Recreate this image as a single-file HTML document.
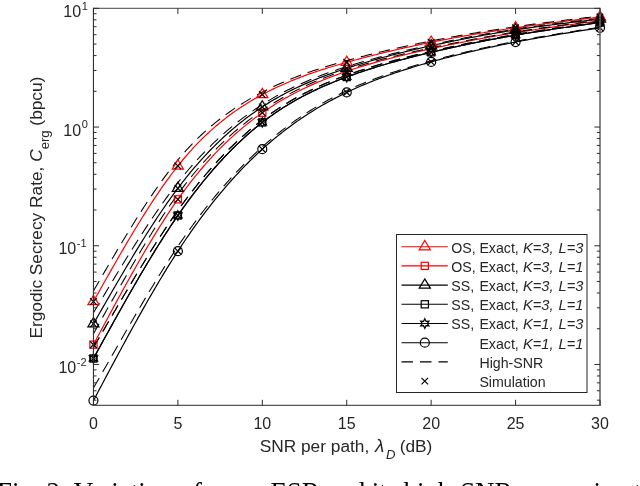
<!DOCTYPE html>
<html><head><meta charset="utf-8"><title>Fig. 2</title>
<style>
html,body{margin:0;padding:0;background:#fff;}
body{width:640px;height:486px;overflow:hidden;position:relative;font-family:"Liberation Sans",sans-serif;}
svg{position:absolute;left:0;top:0;}
svg text{font-family:"Liberation Sans",sans-serif;fill:#262626;}
svg{will-change:transform;}
.cap{will-change:transform;position:absolute;left:-3px;top:479.0px;white-space:nowrap;font-family:"Liberation Serif",serif;font-size:27px;line-height:27px;color:#000;letter-spacing:0px;}
</style></head><body>
<svg width="640" height="486" viewBox="0 0 640 486">
<rect x="0" y="0" width="640" height="486" fill="#fff"/>
<defs><clipPath id="ax"><rect x="93" y="8" width="507.5" height="398"/></clipPath></defs>

<g clip-path="url(#ax)" fill="none" stroke-linejoin="round">
<path d="M93.45,301.52 L95.14,298.51 L96.83,295.51 L98.52,292.51 L100.20,289.51 L101.89,286.52 L103.58,283.52 L105.27,280.54 L106.96,277.55 L108.65,274.58 L110.34,271.60 L112.02,268.64 L113.71,265.68 L115.40,262.74 L117.09,259.80 L118.78,256.87 L120.47,253.95 L122.15,251.04 L123.84,248.15 L125.53,245.26 L127.22,242.39 L128.91,239.54 L130.60,236.70 L132.29,233.87 L133.97,231.06 L135.66,228.27 L137.35,225.50 L139.04,222.74 L140.73,220.00 L142.42,217.28 L144.11,214.59 L145.79,211.91 L147.48,209.25 L149.17,206.62 L150.86,204.01 L152.55,201.42 L154.24,198.86 L155.92,196.33 L157.61,193.82 L159.30,191.33 L160.99,188.88 L162.68,186.45 L164.37,184.05 L166.06,181.68 L167.74,179.34 L169.43,177.03 L171.12,174.75 L172.81,172.51 L174.50,170.30 L176.19,168.12 L177.88,165.97 L179.56,163.86 L181.25,161.79 L182.94,159.75 L184.63,157.74 L186.32,155.77 L188.01,153.82 L189.69,151.92 L191.38,150.04 L193.07,148.20 L194.76,146.38 L196.45,144.60 L198.14,142.85 L199.83,141.12 L201.51,139.43 L203.20,137.77 L204.89,136.13 L206.58,134.53 L208.27,132.95 L209.96,131.40 L211.64,129.87 L213.33,128.37 L215.02,126.90 L216.71,125.46 L218.40,124.04 L220.09,122.64 L221.78,121.27 L223.46,119.92 L225.15,118.60 L226.84,117.30 L228.53,116.02 L230.22,114.76 L231.91,113.53 L233.60,112.32 L235.28,111.13 L236.97,109.96 L238.66,108.81 L240.35,107.68 L242.04,106.56 L243.73,105.47 L245.42,104.40 L247.10,103.34 L248.79,102.31 L250.48,101.29 L252.17,100.28 L253.86,99.29 L255.55,98.32 L257.23,97.37 L258.92,96.43 L260.61,95.50 L262.30,94.59 L263.99,93.69 L265.68,92.81 L267.37,91.94 L269.05,91.08 L270.74,90.24 L272.43,89.41 L274.12,88.59 L275.81,87.78 L277.50,86.99 L279.19,86.20 L280.87,85.43 L282.56,84.68 L284.25,83.93 L285.94,83.19 L287.63,82.47 L289.32,81.75 L291.00,81.05 L292.69,80.35 L294.38,79.67 L296.07,79.00 L297.76,78.33 L299.45,77.68 L301.14,77.03 L302.82,76.39 L304.51,75.77 L306.20,75.15 L307.89,74.54 L309.58,73.93 L311.27,73.34 L312.96,72.75 L314.64,72.17 L316.33,71.60 L318.02,71.04 L319.71,70.48 L321.40,69.93 L323.09,69.38 L324.77,68.85 L326.46,68.31 L328.15,67.79 L329.84,67.27 L331.53,66.75 L333.22,66.24 L334.91,65.73 L336.59,65.23 L338.28,64.74 L339.97,64.25 L341.66,63.76 L343.35,63.28 L345.04,62.80 L346.73,62.32 L348.41,61.85 L350.10,61.38 L351.79,60.91 L353.48,60.45 L355.17,59.99 L356.86,59.54 L358.54,59.08 L360.23,58.63 L361.92,58.19 L363.61,57.74 L365.30,57.30 L366.99,56.86 L368.68,56.43 L370.36,56.00 L372.05,55.57 L373.74,55.14 L375.43,54.72 L377.12,54.30 L378.81,53.89 L380.50,53.47 L382.18,53.06 L383.87,52.65 L385.56,52.25 L387.25,51.84 L388.94,51.44 L390.63,51.05 L392.31,50.65 L394.00,50.26 L395.69,49.87 L397.38,49.48 L399.07,49.10 L400.76,48.72 L402.45,48.34 L404.13,47.96 L405.82,47.59 L407.51,47.22 L409.20,46.85 L410.89,46.48 L412.58,46.12 L414.26,45.75 L415.95,45.40 L417.64,45.04 L419.33,44.68 L421.02,44.33 L422.71,43.98 L424.40,43.63 L426.08,43.28 L427.77,42.94 L429.46,42.60 L431.15,42.26 L432.84,41.92 L434.53,41.59 L436.22,41.25 L437.90,40.92 L439.59,40.59 L441.28,40.26 L442.97,39.94 L444.66,39.62 L446.35,39.29 L448.04,38.97 L449.72,38.66 L451.41,38.34 L453.10,38.03 L454.79,37.72 L456.48,37.41 L458.17,37.10 L459.85,36.80 L461.54,36.49 L463.23,36.19 L464.92,35.89 L466.61,35.59 L468.30,35.30 L469.99,35.01 L471.67,34.71 L473.36,34.42 L475.05,34.14 L476.74,33.85 L478.43,33.57 L480.12,33.28 L481.80,33.00 L483.49,32.72 L485.18,32.45 L486.87,32.17 L488.56,31.90 L490.25,31.63 L491.94,31.36 L493.62,31.09 L495.31,30.83 L497.00,30.56 L498.69,30.30 L500.38,30.04 L502.07,29.78 L503.76,29.53 L505.44,29.27 L507.13,29.02 L508.82,28.77 L510.51,28.52 L512.20,28.27 L513.89,28.02 L515.58,27.78 L517.26,27.54 L518.95,27.29 L520.64,27.06 L522.33,26.82 L524.02,26.58 L525.71,26.35 L527.39,26.11 L529.08,25.88 L530.77,25.65 L532.46,25.42 L534.15,25.20 L535.84,24.97 L537.53,24.74 L539.21,24.52 L540.90,24.30 L542.59,24.08 L544.28,23.86 L545.97,23.64 L547.66,23.42 L549.35,23.20 L551.03,22.99 L552.72,22.77 L554.41,22.56 L556.10,22.35 L557.79,22.14 L559.48,21.93 L561.16,21.72 L562.85,21.51 L564.54,21.30 L566.23,21.09 L567.92,20.88 L569.61,20.68 L571.30,20.47 L572.98,20.27 L574.67,20.06 L576.36,19.86 L578.05,19.65 L579.74,19.45 L581.43,19.25 L583.12,19.04 L584.80,18.84 L586.49,18.64 L588.18,18.44 L589.87,18.24 L591.56,18.04 L593.25,17.83 L594.93,17.63 L596.62,17.43 L598.31,17.23 L600.00,17.03" stroke="#ff0000" stroke-width="1.2"/>
<path d="M93.45,344.66 L95.14,341.50 L96.83,338.33 L98.52,335.17 L100.20,332.02 L101.89,328.86 L103.58,325.71 L105.27,322.56 L106.96,319.41 L108.65,316.27 L110.34,313.13 L112.02,310.01 L113.71,306.88 L115.40,303.77 L117.09,300.66 L118.78,297.56 L120.47,294.48 L122.15,291.40 L123.84,288.33 L125.53,285.27 L127.22,282.23 L128.91,279.19 L130.60,276.17 L132.29,273.16 L133.97,270.17 L135.66,267.19 L137.35,264.23 L139.04,261.28 L140.73,258.35 L142.42,255.44 L144.11,252.55 L145.79,249.67 L147.48,246.81 L149.17,243.98 L150.86,241.16 L152.55,238.36 L154.24,235.59 L155.92,232.83 L157.61,230.10 L159.30,227.40 L160.99,224.72 L162.68,222.06 L164.37,219.42 L166.06,216.82 L167.74,214.24 L169.43,211.68 L171.12,209.16 L172.81,206.66 L174.50,204.19 L176.19,201.75 L177.88,199.35 L179.56,196.97 L181.25,194.62 L182.94,192.30 L184.63,190.02 L186.32,187.76 L188.01,185.53 L189.69,183.33 L191.38,181.16 L193.07,179.02 L194.76,176.91 L196.45,174.82 L198.14,172.77 L199.83,170.74 L201.51,168.74 L203.20,166.76 L204.89,164.81 L206.58,162.89 L208.27,161.00 L209.96,159.13 L211.64,157.29 L213.33,155.47 L215.02,153.68 L216.71,151.91 L218.40,150.17 L220.09,148.45 L221.78,146.76 L223.46,145.09 L225.15,143.45 L226.84,141.83 L228.53,140.23 L230.22,138.65 L231.91,137.10 L233.60,135.57 L235.28,134.06 L236.97,132.57 L238.66,131.11 L240.35,129.67 L242.04,128.24 L243.73,126.84 L245.42,125.46 L247.10,124.10 L248.79,122.76 L250.48,121.44 L252.17,120.14 L253.86,118.86 L255.55,117.60 L257.23,116.36 L258.92,115.13 L260.61,113.93 L262.30,112.74 L263.99,111.57 L265.68,110.41 L267.37,109.28 L269.05,108.16 L270.74,107.06 L272.43,105.97 L274.12,104.91 L275.81,103.85 L277.50,102.82 L279.19,101.80 L280.87,100.79 L282.56,99.80 L284.25,98.83 L285.94,97.87 L287.63,96.92 L289.32,95.99 L291.00,95.08 L292.69,94.17 L294.38,93.28 L296.07,92.41 L297.76,91.55 L299.45,90.70 L301.14,89.86 L302.82,89.04 L304.51,88.22 L306.20,87.42 L307.89,86.64 L309.58,85.86 L311.27,85.10 L312.96,84.34 L314.64,83.60 L316.33,82.87 L318.02,82.15 L319.71,81.44 L321.40,80.74 L323.09,80.05 L324.77,79.37 L326.46,78.69 L328.15,78.03 L329.84,77.38 L331.53,76.73 L333.22,76.10 L334.91,75.47 L336.59,74.85 L338.28,74.23 L339.97,73.63 L341.66,73.03 L343.35,72.44 L345.04,71.86 L346.73,71.28 L348.41,70.71 L350.10,70.15 L351.79,69.59 L353.48,69.04 L355.17,68.49 L356.86,67.95 L358.54,67.42 L360.23,66.89 L361.92,66.37 L363.61,65.85 L365.30,65.34 L366.99,64.84 L368.68,64.34 L370.36,63.84 L372.05,63.35 L373.74,62.87 L375.43,62.39 L377.12,61.91 L378.81,61.44 L380.50,60.98 L382.18,60.52 L383.87,60.06 L385.56,59.61 L387.25,59.16 L388.94,58.71 L390.63,58.28 L392.31,57.84 L394.00,57.41 L395.69,56.98 L397.38,56.56 L399.07,56.14 L400.76,55.72 L402.45,55.31 L404.13,54.90 L405.82,54.49 L407.51,54.09 L409.20,53.69 L410.89,53.29 L412.58,52.89 L414.26,52.50 L415.95,52.11 L417.64,51.73 L419.33,51.34 L421.02,50.96 L422.71,50.58 L424.40,50.20 L426.08,49.83 L427.77,49.46 L429.46,49.09 L431.15,48.72 L432.84,48.35 L434.53,47.99 L436.22,47.62 L437.90,47.26 L439.59,46.90 L441.28,46.54 L442.97,46.19 L444.66,45.83 L446.35,45.48 L448.04,45.13 L449.72,44.78 L451.41,44.43 L453.10,44.09 L454.79,43.74 L456.48,43.40 L458.17,43.06 L459.85,42.73 L461.54,42.39 L463.23,42.06 L464.92,41.72 L466.61,41.39 L468.30,41.06 L469.99,40.74 L471.67,40.41 L473.36,40.09 L475.05,39.77 L476.74,39.45 L478.43,39.13 L480.12,38.82 L481.80,38.51 L483.49,38.20 L485.18,37.89 L486.87,37.58 L488.56,37.27 L490.25,36.97 L491.94,36.67 L493.62,36.37 L495.31,36.07 L497.00,35.78 L498.69,35.48 L500.38,35.19 L502.07,34.90 L503.76,34.62 L505.44,34.33 L507.13,34.05 L508.82,33.77 L510.51,33.49 L512.20,33.21 L513.89,32.93 L515.58,32.66 L517.26,32.39 L518.95,32.12 L520.64,31.85 L522.33,31.59 L524.02,31.33 L525.71,31.06 L527.39,30.80 L529.08,30.55 L530.77,30.29 L532.46,30.04 L534.15,29.78 L535.84,29.53 L537.53,29.28 L539.21,29.03 L540.90,28.79 L542.59,28.54 L544.28,28.30 L545.97,28.06 L547.66,27.81 L549.35,27.57 L551.03,27.34 L552.72,27.10 L554.41,26.86 L556.10,26.63 L557.79,26.39 L559.48,26.16 L561.16,25.93 L562.85,25.70 L564.54,25.47 L566.23,25.24 L567.92,25.01 L569.61,24.78 L571.30,24.55 L572.98,24.33 L574.67,24.10 L576.36,23.87 L578.05,23.65 L579.74,23.43 L581.43,23.20 L583.12,22.98 L584.80,22.76 L586.49,22.53 L588.18,22.31 L589.87,22.09 L591.56,21.87 L593.25,21.65 L594.93,21.43 L596.62,21.21 L598.31,20.98 L600.00,20.76" stroke="#ff0000" stroke-width="1.2"/>
<path d="M93.45,323.80 L95.14,320.86 L96.83,317.91 L98.52,314.97 L100.20,312.03 L101.89,309.09 L103.58,306.15 L105.27,303.22 L106.96,300.29 L108.65,297.36 L110.34,294.44 L112.02,291.53 L113.71,288.62 L115.40,285.72 L117.09,282.82 L118.78,279.94 L120.47,277.06 L122.15,274.19 L123.84,271.33 L125.53,268.48 L127.22,265.64 L128.91,262.82 L130.60,260.00 L132.29,257.20 L133.97,254.41 L135.66,251.63 L137.35,248.87 L139.04,246.12 L140.73,243.39 L142.42,240.67 L144.11,237.97 L145.79,235.29 L147.48,232.62 L149.17,229.97 L150.86,227.35 L152.55,224.73 L154.24,222.14 L155.92,219.57 L157.61,217.02 L159.30,214.50 L160.99,211.99 L162.68,209.51 L164.37,207.05 L166.06,204.61 L167.74,202.20 L169.43,199.81 L171.12,197.45 L172.81,195.11 L174.50,192.80 L176.19,190.52 L177.88,188.26 L179.56,186.04 L181.25,183.84 L182.94,181.67 L184.63,179.52 L186.32,177.41 L188.01,175.32 L189.69,173.25 L191.38,171.22 L193.07,169.21 L194.76,167.22 L196.45,165.27 L198.14,163.34 L199.83,161.43 L201.51,159.55 L203.20,157.69 L204.89,155.86 L206.58,154.06 L208.27,152.28 L209.96,150.52 L211.64,148.79 L213.33,147.08 L215.02,145.39 L216.71,143.73 L218.40,142.09 L220.09,140.47 L221.78,138.88 L223.46,137.31 L225.15,135.76 L226.84,134.24 L228.53,132.73 L230.22,131.25 L231.91,129.79 L233.60,128.35 L235.28,126.93 L236.97,125.53 L238.66,124.15 L240.35,122.80 L242.04,121.46 L243.73,120.14 L245.42,118.84 L247.10,117.57 L248.79,116.31 L250.48,115.07 L252.17,113.85 L253.86,112.65 L255.55,111.46 L257.23,110.30 L258.92,109.15 L260.61,108.02 L262.30,106.91 L263.99,105.82 L265.68,104.74 L267.37,103.68 L269.05,102.63 L270.74,101.61 L272.43,100.59 L274.12,99.60 L275.81,98.62 L277.50,97.65 L279.19,96.70 L280.87,95.77 L282.56,94.85 L284.25,93.94 L285.94,93.05 L287.63,92.17 L289.32,91.31 L291.00,90.46 L292.69,89.62 L294.38,88.80 L296.07,87.98 L297.76,87.18 L299.45,86.39 L301.14,85.62 L302.82,84.85 L304.51,84.10 L306.20,83.36 L307.89,82.63 L309.58,81.91 L311.27,81.20 L312.96,80.50 L314.64,79.81 L316.33,79.13 L318.02,78.45 L319.71,77.79 L321.40,77.14 L323.09,76.49 L324.77,75.86 L326.46,75.23 L328.15,74.61 L329.84,74.00 L331.53,73.39 L333.22,72.79 L334.91,72.20 L336.59,71.61 L338.28,71.04 L339.97,70.46 L341.66,69.90 L343.35,69.34 L345.04,68.78 L346.73,68.23 L348.41,67.68 L350.10,67.14 L351.79,66.61 L353.48,66.07 L355.17,65.55 L356.86,65.02 L358.54,64.51 L360.23,63.99 L361.92,63.48 L363.61,62.98 L365.30,62.48 L366.99,61.98 L368.68,61.49 L370.36,61.00 L372.05,60.52 L373.74,60.04 L375.43,59.57 L377.12,59.09 L378.81,58.63 L380.50,58.16 L382.18,57.70 L383.87,57.25 L385.56,56.79 L387.25,56.34 L388.94,55.90 L390.63,55.46 L392.31,55.02 L394.00,54.58 L395.69,54.15 L397.38,53.72 L399.07,53.30 L400.76,52.88 L402.45,52.46 L404.13,52.04 L405.82,51.63 L407.51,51.22 L409.20,50.81 L410.89,50.41 L412.58,50.00 L414.26,49.61 L415.95,49.21 L417.64,48.82 L419.33,48.43 L421.02,48.04 L422.71,47.65 L424.40,47.27 L426.08,46.89 L427.77,46.51 L429.46,46.13 L431.15,45.76 L432.84,45.39 L434.53,45.02 L436.22,44.65 L437.90,44.28 L439.59,43.92 L441.28,43.56 L442.97,43.20 L444.66,42.84 L446.35,42.49 L448.04,42.14 L449.72,41.79 L451.41,41.44 L453.10,41.09 L454.79,40.75 L456.48,40.41 L458.17,40.07 L459.85,39.73 L461.54,39.40 L463.23,39.07 L464.92,38.74 L466.61,38.41 L468.30,38.08 L469.99,37.76 L471.67,37.44 L473.36,37.12 L475.05,36.81 L476.74,36.49 L478.43,36.18 L480.12,35.87 L481.80,35.56 L483.49,35.26 L485.18,34.96 L486.87,34.66 L488.56,34.36 L490.25,34.07 L491.94,33.77 L493.62,33.48 L495.31,33.19 L497.00,32.91 L498.69,32.63 L500.38,32.35 L502.07,32.07 L503.76,31.79 L505.44,31.52 L507.13,31.25 L508.82,30.98 L510.51,30.71 L512.20,30.45 L513.89,30.19 L515.58,29.93 L517.26,29.67 L518.95,29.42 L520.64,29.16 L522.33,28.91 L524.02,28.67 L525.71,28.42 L527.39,28.18 L529.08,27.94 L530.77,27.70 L532.46,27.46 L534.15,27.23 L535.84,27.00 L537.53,26.77 L539.21,26.54 L540.90,26.31 L542.59,26.08 L544.28,25.86 L545.97,25.64 L547.66,25.42 L549.35,25.20 L551.03,24.98 L552.72,24.76 L554.41,24.55 L556.10,24.33 L557.79,24.12 L559.48,23.91 L561.16,23.70 L562.85,23.49 L564.54,23.28 L566.23,23.08 L567.92,22.87 L569.61,22.67 L571.30,22.46 L572.98,22.26 L574.67,22.06 L576.36,21.86 L578.05,21.66 L579.74,21.46 L581.43,21.26 L583.12,21.06 L584.80,20.86 L586.49,20.66 L588.18,20.46 L589.87,20.27 L591.56,20.07 L593.25,19.87 L594.93,19.67 L596.62,19.48 L598.31,19.28 L600.00,19.09" stroke="#000000" stroke-width="1.2"/>
<path d="M93.45,358.47 L95.14,355.40 L96.83,352.34 L98.52,349.27 L100.20,346.21 L101.89,343.14 L103.58,340.08 L105.27,337.03 L106.96,333.97 L108.65,330.92 L110.34,327.88 L112.02,324.84 L113.71,321.81 L115.40,318.78 L117.09,315.76 L118.78,312.74 L120.47,309.73 L122.15,306.73 L123.84,303.74 L125.53,300.76 L127.22,297.79 L128.91,294.82 L130.60,291.87 L132.29,288.93 L133.97,286.00 L135.66,283.08 L137.35,280.18 L139.04,277.28 L140.73,274.40 L142.42,271.54 L144.11,268.69 L145.79,265.85 L147.48,263.03 L149.17,260.22 L150.86,257.44 L152.55,254.66 L154.24,251.91 L155.92,249.17 L157.61,246.45 L159.30,243.75 L160.99,241.07 L162.68,238.41 L164.37,235.77 L166.06,233.16 L167.74,230.56 L169.43,227.98 L171.12,225.43 L172.81,222.90 L174.50,220.39 L176.19,217.91 L177.88,215.45 L179.56,213.01 L181.25,210.61 L182.94,208.22 L184.63,205.86 L186.32,203.52 L188.01,201.21 L189.69,198.93 L191.38,196.66 L193.07,194.42 L194.76,192.21 L196.45,190.02 L198.14,187.85 L199.83,185.71 L201.51,183.59 L203.20,181.49 L204.89,179.42 L206.58,177.37 L208.27,175.35 L209.96,173.35 L211.64,171.37 L213.33,169.41 L215.02,167.48 L216.71,165.57 L218.40,163.69 L220.09,161.82 L221.78,159.98 L223.46,158.16 L225.15,156.37 L226.84,154.60 L228.53,152.85 L230.22,151.12 L231.91,149.41 L233.60,147.73 L235.28,146.07 L236.97,144.43 L238.66,142.81 L240.35,141.21 L242.04,139.64 L243.73,138.09 L245.42,136.56 L247.10,135.05 L248.79,133.56 L250.48,132.09 L252.17,130.65 L253.86,129.22 L255.55,127.82 L257.23,126.44 L258.92,125.08 L260.61,123.74 L262.30,122.42 L263.99,121.12 L265.68,119.84 L267.37,118.58 L269.05,117.35 L270.74,116.13 L272.43,114.93 L274.12,113.75 L275.81,112.59 L277.50,111.44 L279.19,110.32 L280.87,109.21 L282.56,108.12 L284.25,107.05 L285.94,105.99 L287.63,104.96 L289.32,103.93 L291.00,102.93 L292.69,101.94 L294.38,100.96 L296.07,100.01 L297.76,99.06 L299.45,98.13 L301.14,97.22 L302.82,96.32 L304.51,95.43 L306.20,94.56 L307.89,93.70 L309.58,92.86 L311.27,92.02 L312.96,91.20 L314.64,90.39 L316.33,89.60 L318.02,88.81 L319.71,88.04 L321.40,87.28 L323.09,86.53 L324.77,85.79 L326.46,85.06 L328.15,84.34 L329.84,83.63 L331.53,82.93 L333.22,82.24 L334.91,81.56 L336.59,80.88 L338.28,80.22 L339.97,79.56 L341.66,78.91 L343.35,78.27 L345.04,77.63 L346.73,77.01 L348.41,76.38 L350.10,75.77 L351.79,75.16 L353.48,74.56 L355.17,73.97 L356.86,73.38 L358.54,72.79 L360.23,72.22 L361.92,71.65 L363.61,71.08 L365.30,70.52 L366.99,69.97 L368.68,69.42 L370.36,68.88 L372.05,68.35 L373.74,67.81 L375.43,67.29 L377.12,66.77 L378.81,66.25 L380.50,65.74 L382.18,65.24 L383.87,64.74 L385.56,64.24 L387.25,63.75 L388.94,63.26 L390.63,62.78 L392.31,62.30 L394.00,61.83 L395.69,61.36 L397.38,60.90 L399.07,60.44 L400.76,59.98 L402.45,59.53 L404.13,59.08 L405.82,58.63 L407.51,58.19 L409.20,57.75 L410.89,57.32 L412.58,56.89 L414.26,56.46 L415.95,56.03 L417.64,55.61 L419.33,55.19 L421.02,54.78 L422.71,54.36 L424.40,53.95 L426.08,53.55 L427.77,53.14 L429.46,52.74 L431.15,52.34 L432.84,51.94 L434.53,51.55 L436.22,51.15 L437.90,50.76 L439.59,50.37 L441.28,49.99 L442.97,49.60 L444.66,49.22 L446.35,48.84 L448.04,48.47 L449.72,48.09 L451.41,47.72 L453.10,47.35 L454.79,46.98 L456.48,46.62 L458.17,46.25 L459.85,45.89 L461.54,45.53 L463.23,45.18 L464.92,44.82 L466.61,44.47 L468.30,44.12 L469.99,43.77 L471.67,43.43 L473.36,43.08 L475.05,42.74 L476.74,42.40 L478.43,42.07 L480.12,41.73 L481.80,41.40 L483.49,41.07 L485.18,40.74 L486.87,40.41 L488.56,40.09 L490.25,39.77 L491.94,39.45 L493.62,39.13 L495.31,38.82 L497.00,38.50 L498.69,38.19 L500.38,37.88 L502.07,37.58 L503.76,37.27 L505.44,36.97 L507.13,36.67 L508.82,36.37 L510.51,36.08 L512.20,35.78 L513.89,35.49 L515.58,35.20 L517.26,34.91 L518.95,34.63 L520.64,34.34 L522.33,34.06 L524.02,33.78 L525.71,33.51 L527.39,33.23 L529.08,32.95 L530.77,32.68 L532.46,32.41 L534.15,32.14 L535.84,31.87 L537.53,31.61 L539.21,31.34 L540.90,31.08 L542.59,30.82 L544.28,30.56 L545.97,30.30 L547.66,30.04 L549.35,29.79 L551.03,29.53 L552.72,29.28 L554.41,29.03 L556.10,28.77 L557.79,28.52 L559.48,28.28 L561.16,28.03 L562.85,27.78 L564.54,27.53 L566.23,27.29 L567.92,27.04 L569.61,26.80 L571.30,26.56 L572.98,26.31 L574.67,26.07 L576.36,25.83 L578.05,25.59 L579.74,25.35 L581.43,25.11 L583.12,24.87 L584.80,24.63 L586.49,24.40 L588.18,24.16 L589.87,23.92 L591.56,23.68 L593.25,23.44 L594.93,23.21 L596.62,22.97 L598.31,22.73 L600.00,22.50" stroke="#000000" stroke-width="1.2"/>
<path d="M93.45,358.47 L95.14,355.40 L96.83,352.34 L98.52,349.27 L100.20,346.21 L101.89,343.14 L103.58,340.08 L105.27,337.03 L106.96,333.97 L108.65,330.92 L110.34,327.88 L112.02,324.84 L113.71,321.81 L115.40,318.78 L117.09,315.76 L118.78,312.74 L120.47,309.73 L122.15,306.73 L123.84,303.74 L125.53,300.76 L127.22,297.79 L128.91,294.82 L130.60,291.87 L132.29,288.93 L133.97,286.00 L135.66,283.08 L137.35,280.18 L139.04,277.28 L140.73,274.40 L142.42,271.54 L144.11,268.69 L145.79,265.85 L147.48,263.03 L149.17,260.22 L150.86,257.44 L152.55,254.66 L154.24,251.91 L155.92,249.17 L157.61,246.45 L159.30,243.75 L160.99,241.07 L162.68,238.41 L164.37,235.77 L166.06,233.16 L167.74,230.56 L169.43,227.98 L171.12,225.43 L172.81,222.90 L174.50,220.39 L176.19,217.91 L177.88,215.45 L179.56,213.01 L181.25,210.61 L182.94,208.22 L184.63,205.86 L186.32,203.52 L188.01,201.21 L189.69,198.93 L191.38,196.66 L193.07,194.42 L194.76,192.21 L196.45,190.02 L198.14,187.85 L199.83,185.71 L201.51,183.59 L203.20,181.49 L204.89,179.42 L206.58,177.37 L208.27,175.35 L209.96,173.35 L211.64,171.37 L213.33,169.41 L215.02,167.48 L216.71,165.57 L218.40,163.69 L220.09,161.82 L221.78,159.98 L223.46,158.16 L225.15,156.37 L226.84,154.60 L228.53,152.85 L230.22,151.12 L231.91,149.41 L233.60,147.73 L235.28,146.07 L236.97,144.43 L238.66,142.81 L240.35,141.21 L242.04,139.64 L243.73,138.09 L245.42,136.56 L247.10,135.05 L248.79,133.56 L250.48,132.09 L252.17,130.65 L253.86,129.22 L255.55,127.82 L257.23,126.44 L258.92,125.08 L260.61,123.74 L262.30,122.42 L263.99,121.12 L265.68,119.84 L267.37,118.58 L269.05,117.35 L270.74,116.13 L272.43,114.93 L274.12,113.75 L275.81,112.59 L277.50,111.44 L279.19,110.32 L280.87,109.21 L282.56,108.12 L284.25,107.05 L285.94,105.99 L287.63,104.96 L289.32,103.93 L291.00,102.93 L292.69,101.94 L294.38,100.96 L296.07,100.01 L297.76,99.06 L299.45,98.13 L301.14,97.22 L302.82,96.32 L304.51,95.43 L306.20,94.56 L307.89,93.70 L309.58,92.86 L311.27,92.02 L312.96,91.20 L314.64,90.39 L316.33,89.60 L318.02,88.81 L319.71,88.04 L321.40,87.28 L323.09,86.53 L324.77,85.79 L326.46,85.06 L328.15,84.34 L329.84,83.63 L331.53,82.93 L333.22,82.24 L334.91,81.56 L336.59,80.88 L338.28,80.22 L339.97,79.56 L341.66,78.91 L343.35,78.27 L345.04,77.63 L346.73,77.01 L348.41,76.38 L350.10,75.77 L351.79,75.16 L353.48,74.56 L355.17,73.97 L356.86,73.38 L358.54,72.79 L360.23,72.22 L361.92,71.65 L363.61,71.08 L365.30,70.52 L366.99,69.97 L368.68,69.42 L370.36,68.88 L372.05,68.35 L373.74,67.81 L375.43,67.29 L377.12,66.77 L378.81,66.25 L380.50,65.74 L382.18,65.24 L383.87,64.74 L385.56,64.24 L387.25,63.75 L388.94,63.26 L390.63,62.78 L392.31,62.30 L394.00,61.83 L395.69,61.36 L397.38,60.90 L399.07,60.44 L400.76,59.98 L402.45,59.53 L404.13,59.08 L405.82,58.63 L407.51,58.19 L409.20,57.75 L410.89,57.32 L412.58,56.89 L414.26,56.46 L415.95,56.03 L417.64,55.61 L419.33,55.19 L421.02,54.78 L422.71,54.36 L424.40,53.95 L426.08,53.55 L427.77,53.14 L429.46,52.74 L431.15,52.34 L432.84,51.94 L434.53,51.55 L436.22,51.15 L437.90,50.76 L439.59,50.37 L441.28,49.99 L442.97,49.60 L444.66,49.22 L446.35,48.84 L448.04,48.47 L449.72,48.09 L451.41,47.72 L453.10,47.35 L454.79,46.98 L456.48,46.62 L458.17,46.25 L459.85,45.89 L461.54,45.53 L463.23,45.18 L464.92,44.82 L466.61,44.47 L468.30,44.12 L469.99,43.77 L471.67,43.43 L473.36,43.08 L475.05,42.74 L476.74,42.40 L478.43,42.07 L480.12,41.73 L481.80,41.40 L483.49,41.07 L485.18,40.74 L486.87,40.41 L488.56,40.09 L490.25,39.77 L491.94,39.45 L493.62,39.13 L495.31,38.82 L497.00,38.50 L498.69,38.19 L500.38,37.88 L502.07,37.58 L503.76,37.27 L505.44,36.97 L507.13,36.67 L508.82,36.37 L510.51,36.08 L512.20,35.78 L513.89,35.49 L515.58,35.20 L517.26,34.91 L518.95,34.63 L520.64,34.34 L522.33,34.06 L524.02,33.78 L525.71,33.51 L527.39,33.23 L529.08,32.95 L530.77,32.68 L532.46,32.41 L534.15,32.14 L535.84,31.87 L537.53,31.61 L539.21,31.34 L540.90,31.08 L542.59,30.82 L544.28,30.56 L545.97,30.30 L547.66,30.04 L549.35,29.79 L551.03,29.53 L552.72,29.28 L554.41,29.03 L556.10,28.77 L557.79,28.52 L559.48,28.28 L561.16,28.03 L562.85,27.78 L564.54,27.53 L566.23,27.29 L567.92,27.04 L569.61,26.80 L571.30,26.56 L572.98,26.31 L574.67,26.07 L576.36,25.83 L578.05,25.59 L579.74,25.35 L581.43,25.11 L583.12,24.87 L584.80,24.63 L586.49,24.40 L588.18,24.16 L589.87,23.92 L591.56,23.68 L593.25,23.44 L594.93,23.21 L596.62,22.97 L598.31,22.73 L600.00,22.50" stroke="#000000" stroke-width="1.2"/>
<path d="M93.45,400.60 L95.14,397.41 L96.83,394.22 L98.52,391.04 L100.20,387.86 L101.89,384.67 L103.58,381.49 L105.27,378.32 L106.96,375.14 L108.65,371.98 L110.34,368.81 L112.02,365.65 L113.71,362.50 L115.40,359.35 L117.09,356.20 L118.78,353.07 L120.47,349.94 L122.15,346.82 L123.84,343.70 L125.53,340.60 L127.22,337.50 L128.91,334.41 L130.60,331.34 L132.29,328.27 L133.97,325.22 L135.66,322.17 L137.35,319.14 L139.04,316.12 L140.73,313.11 L142.42,310.12 L144.11,307.14 L145.79,304.18 L147.48,301.23 L149.17,298.29 L150.86,295.37 L152.55,292.47 L154.24,289.58 L155.92,286.71 L157.61,283.86 L159.30,281.03 L160.99,278.21 L162.68,275.41 L164.37,272.64 L166.06,269.88 L167.74,267.14 L169.43,264.43 L171.12,261.73 L172.81,259.06 L174.50,256.41 L176.19,253.79 L177.88,251.18 L179.56,248.60 L181.25,246.05 L182.94,243.51 L184.63,241.00 L186.32,238.52 L188.01,236.05 L189.69,233.61 L191.38,231.20 L193.07,228.81 L194.76,226.43 L196.45,224.09 L198.14,221.76 L199.83,219.46 L201.51,217.18 L203.20,214.92 L204.89,212.69 L206.58,210.47 L208.27,208.28 L209.96,206.11 L211.64,203.96 L213.33,201.84 L215.02,199.73 L216.71,197.65 L218.40,195.59 L220.09,193.55 L221.78,191.53 L223.46,189.53 L225.15,187.56 L226.84,185.60 L228.53,183.67 L230.22,181.75 L231.91,179.86 L233.60,177.98 L235.28,176.13 L236.97,174.30 L238.66,172.49 L240.35,170.69 L242.04,168.92 L243.73,167.17 L245.42,165.44 L247.10,163.72 L248.79,162.03 L250.48,160.36 L252.17,158.70 L253.86,157.07 L255.55,155.45 L257.23,153.86 L258.92,152.28 L260.61,150.72 L262.30,149.18 L263.99,147.66 L265.68,146.15 L267.37,144.67 L269.05,143.20 L270.74,141.75 L272.43,140.32 L274.12,138.91 L275.81,137.51 L277.50,136.13 L279.19,134.77 L280.87,133.43 L282.56,132.10 L284.25,130.79 L285.94,129.50 L287.63,128.22 L289.32,126.96 L291.00,125.71 L292.69,124.48 L294.38,123.26 L296.07,122.06 L297.76,120.88 L299.45,119.71 L301.14,118.56 L302.82,117.42 L304.51,116.29 L306.20,115.18 L307.89,114.09 L309.58,113.01 L311.27,111.94 L312.96,110.89 L314.64,109.84 L316.33,108.82 L318.02,107.80 L319.71,106.80 L321.40,105.82 L323.09,104.84 L324.77,103.88 L326.46,102.93 L328.15,101.99 L329.84,101.07 L331.53,100.15 L333.22,99.25 L334.91,98.36 L336.59,97.48 L338.28,96.61 L339.97,95.76 L341.66,94.91 L343.35,94.08 L345.04,93.25 L346.73,92.44 L348.41,91.63 L350.10,90.84 L351.79,90.06 L353.48,89.28 L355.17,88.52 L356.86,87.76 L358.54,87.02 L360.23,86.28 L361.92,85.56 L363.61,84.84 L365.30,84.13 L366.99,83.43 L368.68,82.74 L370.36,82.05 L372.05,81.38 L373.74,80.71 L375.43,80.05 L377.12,79.40 L378.81,78.76 L380.50,78.12 L382.18,77.50 L383.87,76.87 L385.56,76.26 L387.25,75.65 L388.94,75.05 L390.63,74.46 L392.31,73.87 L394.00,73.29 L395.69,72.72 L397.38,72.15 L399.07,71.59 L400.76,71.03 L402.45,70.48 L404.13,69.94 L405.82,69.40 L407.51,68.87 L409.20,68.34 L410.89,67.82 L412.58,67.30 L414.26,66.79 L415.95,66.28 L417.64,65.77 L419.33,65.27 L421.02,64.78 L422.71,64.28 L424.40,63.80 L426.08,63.31 L427.77,62.83 L429.46,62.36 L431.15,61.88 L432.84,61.41 L434.53,60.95 L436.22,60.48 L437.90,60.02 L439.59,59.57 L441.28,59.11 L442.97,58.66 L444.66,58.21 L446.35,57.77 L448.04,57.33 L449.72,56.89 L451.41,56.45 L453.10,56.02 L454.79,55.59 L456.48,55.17 L458.17,54.74 L459.85,54.32 L461.54,53.91 L463.23,53.49 L464.92,53.08 L466.61,52.67 L468.30,52.27 L469.99,51.87 L471.67,51.47 L473.36,51.07 L475.05,50.68 L476.74,50.29 L478.43,49.90 L480.12,49.51 L481.80,49.13 L483.49,48.75 L485.18,48.38 L486.87,48.00 L488.56,47.63 L490.25,47.26 L491.94,46.90 L493.62,46.54 L495.31,46.18 L497.00,45.82 L498.69,45.46 L500.38,45.11 L502.07,44.76 L503.76,44.42 L505.44,44.07 L507.13,43.73 L508.82,43.39 L510.51,43.05 L512.20,42.72 L513.89,42.39 L515.58,42.06 L517.26,41.73 L518.95,41.41 L520.64,41.09 L522.33,40.77 L524.02,40.45 L525.71,40.14 L527.39,39.83 L529.08,39.52 L530.77,39.21 L532.46,38.90 L534.15,38.60 L535.84,38.30 L537.53,38.00 L539.21,37.70 L540.90,37.40 L542.59,37.11 L544.28,36.81 L545.97,36.52 L547.66,36.23 L549.35,35.95 L551.03,35.66 L552.72,35.37 L554.41,35.09 L556.10,34.81 L557.79,34.53 L559.48,34.25 L561.16,33.97 L562.85,33.69 L564.54,33.41 L566.23,33.14 L567.92,32.87 L569.61,32.59 L571.30,32.32 L572.98,32.05 L574.67,31.78 L576.36,31.51 L578.05,31.24 L579.74,30.97 L581.43,30.70 L583.12,30.43 L584.80,30.17 L586.49,29.90 L588.18,29.63 L589.87,29.37 L591.56,29.10 L593.25,28.84 L594.93,28.57 L596.62,28.31 L598.31,28.04 L600.00,27.78" stroke="#000000" stroke-width="1.2"/>
<path d="M93.45,291.02 L95.14,288.09 L96.83,285.17 L98.52,282.26 L100.20,279.34 L101.89,276.43 L103.58,273.52 L105.27,270.62 L106.96,267.73 L108.65,264.84 L110.34,261.96 L112.02,259.08 L113.71,256.22 L115.40,253.36 L117.09,250.51 L118.78,247.68 L120.47,244.85 L122.15,242.04 L123.84,239.23 L125.53,236.45 L127.22,233.67 L128.91,230.91 L130.60,228.16 L132.29,225.43 L133.97,222.71 L135.66,220.02 L137.35,217.34 L139.04,214.67 L140.73,212.03 L142.42,209.40 L144.11,206.80 L145.79,204.22 L147.48,201.65 L149.17,199.11 L150.86,196.60 L152.55,194.10 L154.24,191.63 L155.92,189.19 L157.61,186.77 L159.30,184.38 L160.99,182.01 L162.68,179.67 L164.37,177.36 L166.06,175.08 L167.74,172.83 L169.43,170.61 L171.12,168.41 L172.81,166.25 L174.50,164.13 L176.19,162.03 L177.88,159.97 L179.56,157.95 L181.25,155.96 L182.94,154.01 L184.63,152.09 L186.32,150.21 L188.01,148.37 L189.69,146.55 L191.38,144.77 L193.07,143.03 L194.76,141.31 L196.45,139.63 L198.14,137.97 L199.83,136.35 L201.51,134.75 L203.20,133.18 L204.89,131.64 L206.58,130.13 L208.27,128.64 L209.96,127.18 L211.64,125.75 L213.33,124.34 L215.02,122.95 L216.71,121.59 L218.40,120.25 L220.09,118.94 L221.78,117.64 L223.46,116.37 L225.15,115.12 L226.84,113.89 L228.53,112.69 L230.22,111.50 L231.91,110.33 L233.60,109.18 L235.28,108.05 L236.97,106.94 L238.66,105.85 L240.35,104.77 L242.04,103.71 L243.73,102.67 L245.42,101.65 L247.10,100.64 L248.79,99.64 L250.48,98.66 L252.17,97.70 L253.86,96.75 L255.55,95.81 L257.23,94.89 L258.92,93.97 L260.61,93.08 L262.30,92.19 L263.99,91.32 L265.68,90.46 L267.37,89.61 L269.05,88.77 L270.74,87.95 L272.43,87.14 L274.12,86.34 L275.81,85.55 L277.50,84.78 L279.19,84.01 L280.87,83.26 L282.56,82.52 L284.25,81.79 L285.94,81.07 L287.63,80.36 L289.32,79.66 L291.00,78.97 L292.69,78.29 L294.38,77.62 L296.07,76.96 L297.76,76.31 L299.45,75.67 L301.14,75.04 L302.82,74.41 L304.51,73.80 L306.20,73.19 L307.89,72.59 L309.58,72.00 L311.27,71.42 L312.96,70.84 L314.64,70.27 L316.33,69.71 L318.02,69.16 L319.71,68.61 L321.40,68.07 L323.09,67.54 L324.77,67.01 L326.46,66.49 L328.15,65.97 L329.84,65.46 L331.53,64.96 L333.22,64.46 L334.91,63.96 L336.59,63.47 L338.28,62.99 L339.97,62.51 L341.66,62.03 L343.35,61.56 L345.04,61.09 L346.73,60.62 L348.41,60.16 L350.10,59.70 L351.79,59.24 L353.48,58.79 L355.17,58.34 L356.86,57.90 L358.54,57.45 L360.23,57.01 L361.92,56.58 L363.61,56.14 L365.30,55.71 L366.99,55.28 L368.68,54.86 L370.36,54.43 L372.05,54.02 L373.74,53.60 L375.43,53.19 L377.12,52.77 L378.81,52.37 L380.50,51.96 L382.18,51.56 L383.87,51.16 L385.56,50.76 L387.25,50.37 L388.94,49.98 L390.63,49.59 L392.31,49.20 L394.00,48.81 L395.69,48.43 L397.38,48.05 L399.07,47.68 L400.76,47.30 L402.45,46.93 L404.13,46.56 L405.82,46.20 L407.51,45.83 L409.20,45.47 L410.89,45.11 L412.58,44.75 L414.26,44.40 L415.95,44.04 L417.64,43.69 L419.33,43.34 L421.02,43.00 L422.71,42.65 L424.40,42.31 L426.08,41.97 L427.77,41.63 L429.46,41.29 L431.15,40.96 L432.84,40.63 L434.53,40.30 L436.22,39.97 L437.90,39.64 L439.59,39.32 L441.28,39.00 L442.97,38.67 L444.66,38.36 L446.35,38.04 L448.04,37.73 L449.72,37.41 L451.41,37.10 L453.10,36.79 L454.79,36.49 L456.48,36.18 L458.17,35.88 L459.85,35.58 L461.54,35.28 L463.23,34.98 L464.92,34.69 L466.61,34.40 L468.30,34.10 L469.99,33.81 L471.67,33.53 L473.36,33.24 L475.05,32.96 L476.74,32.67 L478.43,32.39 L480.12,32.12 L481.80,31.84 L483.49,31.56 L485.18,31.29 L486.87,31.02 L488.56,30.75 L490.25,30.48 L491.94,30.22 L493.62,29.95 L495.31,29.69 L497.00,29.43 L498.69,29.17 L500.38,28.91 L502.07,28.66 L503.76,28.41 L505.44,28.15 L507.13,27.90 L508.82,27.66 L510.51,27.41 L512.20,27.16 L513.89,26.92 L515.58,26.68 L517.26,26.44 L518.95,26.20 L520.64,25.96 L522.33,25.73 L524.02,25.49 L525.71,25.26 L527.39,25.03 L529.08,24.80 L530.77,24.57 L532.46,24.35 L534.15,24.12 L535.84,23.90 L537.53,23.68 L539.21,23.46 L540.90,23.24 L542.59,23.02 L544.28,22.80 L545.97,22.58 L547.66,22.37 L549.35,22.15 L551.03,21.94 L552.72,21.73 L554.41,21.52 L556.10,21.31 L557.79,21.10 L559.48,20.89 L561.16,20.68 L562.85,20.47 L564.54,20.26 L566.23,20.06 L567.92,19.85 L569.61,19.65 L571.30,19.45 L572.98,19.24 L574.67,19.04 L576.36,18.84 L578.05,18.63 L579.74,18.43 L581.43,18.23 L583.12,18.03 L584.80,17.83 L586.49,17.63 L588.18,17.43 L589.87,17.23 L591.56,17.03 L593.25,16.83 L594.93,16.63 L596.62,16.43 L598.31,16.23 L600.00,16.03" stroke="#000000" stroke-width="1.05" stroke-dasharray="11.5 7"/>
<path d="M93.45,333.66 L95.14,330.65 L96.83,327.65 L98.52,324.64 L100.20,321.63 L101.89,318.62 L103.58,315.62 L105.27,312.61 L106.96,309.61 L108.65,306.61 L110.34,303.62 L112.02,300.62 L113.71,297.64 L115.40,294.66 L117.09,291.69 L118.78,288.72 L120.47,285.76 L122.15,282.81 L123.84,279.87 L125.53,276.93 L127.22,274.01 L128.91,271.10 L130.60,268.20 L132.29,265.31 L133.97,262.43 L135.66,259.57 L137.35,256.72 L139.04,253.89 L140.73,251.07 L142.42,248.26 L144.11,245.48 L145.79,242.71 L147.48,239.95 L149.17,237.22 L150.86,234.50 L152.55,231.81 L154.24,229.13 L155.92,226.48 L157.61,223.84 L159.30,221.23 L160.99,218.64 L162.68,216.08 L164.37,213.54 L166.06,211.02 L167.74,208.53 L169.43,206.06 L171.12,203.62 L172.81,201.21 L174.50,198.83 L176.19,196.47 L177.88,194.15 L179.56,191.85 L181.25,189.58 L182.94,187.35 L184.63,185.14 L186.32,182.96 L188.01,180.82 L189.69,178.70 L191.38,176.61 L193.07,174.54 L194.76,172.51 L196.45,170.50 L198.14,168.52 L199.83,166.56 L201.51,164.64 L203.20,162.74 L204.89,160.86 L206.58,159.01 L208.27,157.18 L209.96,155.38 L211.64,153.61 L213.33,151.86 L215.02,150.13 L216.71,148.43 L218.40,146.75 L220.09,145.09 L221.78,143.46 L223.46,141.84 L225.15,140.26 L226.84,138.69 L228.53,137.14 L230.22,135.62 L231.91,134.12 L233.60,132.64 L235.28,131.18 L236.97,129.74 L238.66,128.32 L240.35,126.92 L242.04,125.54 L243.73,124.18 L245.42,122.84 L247.10,121.52 L248.79,120.21 L250.48,118.93 L252.17,117.66 L253.86,116.42 L255.55,115.19 L257.23,113.97 L258.92,112.78 L260.61,111.60 L262.30,110.44 L263.99,109.29 L265.68,108.16 L267.37,107.05 L269.05,105.96 L270.74,104.88 L272.43,103.82 L274.12,102.77 L275.81,101.74 L277.50,100.72 L279.19,99.72 L280.87,98.73 L282.56,97.76 L284.25,96.80 L285.94,95.86 L287.63,94.93 L289.32,94.02 L291.00,93.12 L292.69,92.23 L294.38,91.36 L296.07,90.50 L297.76,89.65 L299.45,88.82 L301.14,88.00 L302.82,87.19 L304.51,86.39 L306.20,85.60 L307.89,84.83 L309.58,84.07 L311.27,83.32 L312.96,82.58 L314.64,81.85 L316.33,81.13 L318.02,80.42 L319.71,79.72 L321.40,79.04 L323.09,78.36 L324.77,77.69 L326.46,77.03 L328.15,76.38 L329.84,75.74 L331.53,75.11 L333.22,74.49 L334.91,73.87 L336.59,73.27 L338.28,72.67 L339.97,72.08 L341.66,71.49 L343.35,70.91 L345.04,70.34 L346.73,69.78 L348.41,69.23 L350.10,68.68 L351.79,68.13 L353.48,67.60 L355.17,67.06 L356.86,66.54 L358.54,66.02 L360.23,65.51 L361.92,65.00 L363.61,64.50 L365.30,64.00 L366.99,63.51 L368.68,63.03 L370.36,62.55 L372.05,62.07 L373.74,61.60 L375.43,61.13 L377.12,60.67 L378.81,60.22 L380.50,59.77 L382.18,59.32 L383.87,58.88 L385.56,58.44 L387.25,58.00 L388.94,57.57 L390.63,57.14 L392.31,56.72 L394.00,56.30 L395.69,55.89 L397.38,55.48 L399.07,55.07 L400.76,54.66 L402.45,54.26 L404.13,53.86 L405.82,53.46 L407.51,53.07 L409.20,52.68 L410.89,52.29 L412.58,51.91 L414.26,51.53 L415.95,51.15 L417.64,50.77 L419.33,50.39 L421.02,50.02 L422.71,49.65 L424.40,49.28 L426.08,48.91 L427.77,48.54 L429.46,48.18 L431.15,47.82 L432.84,47.46 L434.53,47.10 L436.22,46.74 L437.90,46.38 L439.59,46.03 L441.28,45.68 L442.97,45.33 L444.66,44.98 L446.35,44.63 L448.04,44.28 L449.72,43.94 L451.41,43.60 L453.10,43.26 L454.79,42.92 L456.48,42.58 L458.17,42.25 L459.85,41.91 L461.54,41.58 L463.23,41.25 L464.92,40.92 L466.61,40.60 L468.30,40.27 L469.99,39.95 L471.67,39.63 L473.36,39.31 L475.05,38.99 L476.74,38.68 L478.43,38.37 L480.12,38.06 L481.80,37.75 L483.49,37.44 L485.18,37.13 L486.87,36.83 L488.56,36.53 L490.25,36.23 L491.94,35.93 L493.62,35.63 L495.31,35.34 L497.00,35.05 L498.69,34.76 L500.38,34.47 L502.07,34.18 L503.76,33.90 L505.44,33.61 L507.13,33.33 L508.82,33.06 L510.51,32.78 L512.20,32.50 L513.89,32.23 L515.58,31.96 L517.26,31.69 L518.95,31.43 L520.64,31.16 L522.33,30.90 L524.02,30.64 L525.71,30.38 L527.39,30.12 L529.08,29.87 L530.77,29.61 L532.46,29.36 L534.15,29.11 L535.84,28.86 L537.53,28.61 L539.21,28.37 L540.90,28.12 L542.59,27.88 L544.28,27.64 L545.97,27.40 L547.66,27.16 L549.35,26.92 L551.03,26.69 L552.72,26.45 L554.41,26.22 L556.10,25.98 L557.79,25.75 L559.48,25.52 L561.16,25.29 L562.85,25.06 L564.54,24.83 L566.23,24.60 L567.92,24.38 L569.61,24.15 L571.30,23.93 L572.98,23.70 L574.67,23.48 L576.36,23.25 L578.05,23.03 L579.74,22.81 L581.43,22.59 L583.12,22.36 L584.80,22.14 L586.49,21.92 L588.18,21.70 L589.87,21.48 L591.56,21.26 L593.25,21.04 L594.93,20.82 L596.62,20.60 L598.31,20.38 L600.00,20.16" stroke="#000000" stroke-width="1.05" stroke-dasharray="11.5 7"/>
<path d="M93.45,312.80 L95.14,309.99 L96.83,307.17 L98.52,304.36 L100.20,301.54 L101.89,298.73 L103.58,295.92 L105.27,293.11 L106.96,290.30 L108.65,287.50 L110.34,284.70 L112.02,281.91 L113.71,279.12 L115.40,276.34 L117.09,273.56 L118.78,270.80 L120.47,268.04 L122.15,265.28 L123.84,262.54 L125.53,259.80 L127.22,257.08 L128.91,254.37 L130.60,251.66 L132.29,248.97 L133.97,246.29 L135.66,243.62 L137.35,240.97 L139.04,238.33 L140.73,235.70 L142.42,233.09 L144.11,230.49 L145.79,227.91 L147.48,225.35 L149.17,222.80 L150.86,220.27 L152.55,217.76 L154.24,215.27 L155.92,212.80 L157.61,210.34 L159.30,207.91 L160.99,205.50 L162.68,203.11 L164.37,200.74 L166.06,198.40 L167.74,196.08 L169.43,193.78 L171.12,191.50 L172.81,189.25 L174.50,187.03 L176.19,184.83 L177.88,182.66 L179.56,180.52 L181.25,178.41 L182.94,176.32 L184.63,174.26 L186.32,172.23 L188.01,170.23 L189.69,168.25 L191.38,166.31 L193.07,164.38 L194.76,162.48 L196.45,160.61 L198.14,158.76 L199.83,156.94 L201.51,155.14 L203.20,153.37 L204.89,151.62 L206.58,149.89 L208.27,148.19 L209.96,146.51 L211.64,144.85 L213.33,143.22 L215.02,141.61 L216.71,140.02 L218.40,138.45 L220.09,136.90 L221.78,135.37 L223.46,133.87 L225.15,132.38 L226.84,130.92 L228.53,129.47 L230.22,128.05 L231.91,126.65 L233.60,125.26 L235.28,123.90 L236.97,122.55 L238.66,121.22 L240.35,119.92 L242.04,118.63 L243.73,117.35 L245.42,116.10 L247.10,114.86 L248.79,113.65 L250.48,112.44 L252.17,111.26 L253.86,110.09 L255.55,108.95 L257.23,107.81 L258.92,106.70 L260.61,105.59 L262.30,104.51 L263.99,103.44 L265.68,102.39 L267.37,101.35 L269.05,100.33 L270.74,99.33 L272.43,98.34 L274.12,97.36 L275.81,96.40 L277.50,95.46 L279.19,94.53 L280.87,93.61 L282.56,92.71 L284.25,91.82 L285.94,90.95 L287.63,90.09 L289.32,89.24 L291.00,88.41 L292.69,87.58 L294.38,86.77 L296.07,85.98 L297.76,85.19 L299.45,84.42 L301.14,83.66 L302.82,82.91 L304.51,82.17 L306.20,81.44 L307.89,80.72 L309.58,80.02 L311.27,79.32 L312.96,78.63 L314.64,77.96 L316.33,77.29 L318.02,76.63 L319.71,75.98 L321.40,75.34 L323.09,74.71 L324.77,74.08 L326.46,73.47 L328.15,72.86 L329.84,72.26 L331.53,71.67 L333.22,71.08 L334.91,70.50 L336.59,69.93 L338.28,69.37 L339.97,68.81 L341.66,68.26 L343.35,67.71 L345.04,67.17 L346.73,66.63 L348.41,66.10 L350.10,65.57 L351.79,65.05 L353.48,64.53 L355.17,64.02 L356.86,63.51 L358.54,63.01 L360.23,62.51 L361.92,62.02 L363.61,61.53 L365.30,61.04 L366.99,60.56 L368.68,60.08 L370.36,59.61 L372.05,59.14 L373.74,58.67 L375.43,58.21 L377.12,57.76 L378.81,57.30 L380.50,56.85 L382.18,56.41 L383.87,55.96 L385.56,55.52 L387.25,55.09 L388.94,54.65 L390.63,54.23 L392.31,53.80 L394.00,53.38 L395.69,52.96 L397.38,52.54 L399.07,52.13 L400.76,51.72 L402.45,51.31 L404.13,50.90 L405.82,50.50 L407.51,50.10 L409.20,49.71 L410.89,49.31 L412.58,48.92 L414.26,48.53 L415.95,48.14 L417.64,47.76 L419.33,47.38 L421.02,47.00 L422.71,46.62 L424.40,46.24 L426.08,45.87 L427.77,45.50 L429.46,45.13 L431.15,44.76 L432.84,44.39 L434.53,44.03 L436.22,43.67 L437.90,43.31 L439.59,42.95 L441.28,42.59 L442.97,42.24 L444.66,41.89 L446.35,41.54 L448.04,41.19 L449.72,40.85 L451.41,40.50 L453.10,40.16 L454.79,39.82 L456.48,39.49 L458.17,39.15 L459.85,38.82 L461.54,38.49 L463.23,38.16 L464.92,37.84 L466.61,37.51 L468.30,37.19 L469.99,36.87 L471.67,36.56 L473.36,36.24 L475.05,35.93 L476.74,35.62 L478.43,35.31 L480.12,35.01 L481.80,34.70 L483.49,34.40 L485.18,34.10 L486.87,33.81 L488.56,33.51 L490.25,33.22 L491.94,32.93 L493.62,32.64 L495.31,32.36 L497.00,32.08 L498.69,31.80 L500.38,31.52 L502.07,31.24 L503.76,30.97 L505.44,30.70 L507.13,30.43 L508.82,30.17 L510.51,29.90 L512.20,29.64 L513.89,29.38 L515.58,29.13 L517.26,28.87 L518.95,28.62 L520.64,28.37 L522.33,28.13 L524.02,27.88 L525.71,27.64 L527.39,27.40 L529.08,27.16 L530.77,26.92 L532.46,26.69 L534.15,26.46 L535.84,26.23 L537.53,26.00 L539.21,25.77 L540.90,25.55 L542.59,25.32 L544.28,25.10 L545.97,24.88 L547.66,24.66 L549.35,24.45 L551.03,24.23 L552.72,24.02 L554.41,23.80 L556.10,23.59 L557.79,23.38 L559.48,23.17 L561.16,22.96 L562.85,22.76 L564.54,22.55 L566.23,22.35 L567.92,22.14 L569.61,21.94 L571.30,21.74 L572.98,21.54 L574.67,21.34 L576.36,21.14 L578.05,20.94 L579.74,20.74 L581.43,20.54 L583.12,20.34 L584.80,20.15 L586.49,19.95 L588.18,19.75 L589.87,19.56 L591.56,19.36 L593.25,19.17 L594.93,18.97 L596.62,18.78 L598.31,18.58 L600.00,18.39" stroke="#000000" stroke-width="1.05" stroke-dasharray="11.5 7"/>
<path d="M93.45,347.47 L95.14,344.58 L96.83,341.70 L98.52,338.81 L100.20,335.91 L101.89,333.02 L103.58,330.13 L105.27,327.23 L106.96,324.34 L108.65,321.45 L110.34,318.56 L112.02,315.67 L113.71,312.78 L115.40,309.90 L117.09,307.02 L118.78,304.15 L120.47,301.28 L122.15,298.41 L123.84,295.55 L125.53,292.70 L127.22,289.86 L128.91,287.02 L130.60,284.19 L132.29,281.37 L133.97,278.56 L135.66,275.76 L137.35,272.96 L139.04,270.18 L140.73,267.41 L142.42,264.66 L144.11,261.91 L145.79,259.18 L147.48,256.46 L149.17,253.76 L150.86,251.07 L152.55,248.39 L154.24,245.74 L155.92,243.09 L157.61,240.47 L159.30,237.86 L160.99,235.27 L162.68,232.69 L164.37,230.14 L166.06,227.61 L167.74,225.09 L169.43,222.60 L171.12,220.12 L172.81,217.67 L174.50,215.24 L176.19,212.83 L177.88,210.45 L179.56,208.09 L181.25,205.75 L182.94,203.44 L184.63,201.15 L186.32,198.89 L188.01,196.65 L189.69,194.43 L191.38,192.23 L193.07,190.06 L194.76,187.92 L196.45,185.79 L198.14,183.69 L199.83,181.61 L201.51,179.56 L203.20,177.52 L204.89,175.51 L206.58,173.52 L208.27,171.56 L209.96,169.61 L211.64,167.69 L213.33,165.79 L215.02,163.92 L216.71,162.06 L218.40,160.23 L220.09,158.41 L221.78,156.62 L223.46,154.85 L225.15,153.11 L226.84,151.38 L228.53,149.68 L230.22,147.99 L231.91,146.33 L233.60,144.69 L235.28,143.07 L236.97,141.47 L238.66,139.89 L240.35,138.33 L242.04,136.79 L243.73,135.27 L245.42,133.78 L247.10,132.30 L248.79,130.85 L250.48,129.41 L252.17,127.99 L253.86,126.60 L255.55,125.22 L257.23,123.87 L258.92,122.53 L260.61,121.22 L262.30,119.92 L263.99,118.64 L265.68,117.38 L267.37,116.15 L269.05,114.93 L270.74,113.73 L272.43,112.55 L274.12,111.38 L275.81,110.24 L277.50,109.11 L279.19,108.00 L280.87,106.91 L282.56,105.84 L284.25,104.78 L285.94,103.74 L287.63,102.72 L289.32,101.71 L291.00,100.72 L292.69,99.74 L294.38,98.78 L296.07,97.83 L297.76,96.90 L299.45,95.98 L301.14,95.08 L302.82,94.19 L304.51,93.32 L306.20,92.46 L307.89,91.61 L309.58,90.78 L311.27,89.95 L312.96,89.15 L314.64,88.35 L316.33,87.56 L318.02,86.79 L319.71,86.03 L321.40,85.28 L323.09,84.54 L324.77,83.81 L326.46,83.10 L328.15,82.39 L329.84,81.69 L331.53,81.00 L333.22,80.33 L334.91,79.66 L336.59,79.00 L338.28,78.34 L339.97,77.70 L341.66,77.07 L343.35,76.44 L345.04,75.82 L346.73,75.21 L348.41,74.60 L350.10,74.00 L351.79,73.41 L353.48,72.83 L355.17,72.25 L356.86,71.68 L358.54,71.11 L360.23,70.55 L361.92,70.00 L363.61,69.46 L365.30,68.92 L366.99,68.38 L368.68,67.85 L370.36,67.33 L372.05,66.81 L373.74,66.30 L375.43,65.79 L377.12,65.29 L378.81,64.80 L380.50,64.31 L382.18,63.82 L383.87,63.34 L385.56,62.86 L387.25,62.39 L388.94,61.92 L390.63,61.45 L392.31,60.99 L394.00,60.54 L395.69,60.09 L397.38,59.64 L399.07,59.19 L400.76,58.75 L402.45,58.32 L404.13,57.88 L405.82,57.45 L407.51,57.02 L409.20,56.60 L410.89,56.18 L412.58,55.76 L414.26,55.35 L415.95,54.94 L417.64,54.53 L419.33,54.12 L421.02,53.72 L422.71,53.31 L424.40,52.91 L426.08,52.52 L427.77,52.12 L429.46,51.73 L431.15,51.34 L432.84,50.95 L434.53,50.56 L436.22,50.18 L437.90,49.80 L439.59,49.42 L441.28,49.04 L442.97,48.66 L444.66,48.29 L446.35,47.92 L448.04,47.55 L449.72,47.18 L451.41,46.82 L453.10,46.46 L454.79,46.09 L456.48,45.74 L458.17,45.38 L459.85,45.03 L461.54,44.67 L463.23,44.32 L464.92,43.98 L466.61,43.63 L468.30,43.29 L469.99,42.95 L471.67,42.61 L473.36,42.27 L475.05,41.93 L476.74,41.60 L478.43,41.27 L480.12,40.94 L481.80,40.61 L483.49,40.29 L485.18,39.97 L486.87,39.65 L488.56,39.33 L490.25,39.01 L491.94,38.70 L493.62,38.38 L495.31,38.07 L497.00,37.76 L498.69,37.46 L500.38,37.15 L502.07,36.85 L503.76,36.55 L505.44,36.25 L507.13,35.95 L508.82,35.66 L510.51,35.37 L512.20,35.08 L513.89,34.79 L515.58,34.50 L517.26,34.22 L518.95,33.93 L520.64,33.65 L522.33,33.37 L524.02,33.10 L525.71,32.82 L527.39,32.55 L529.08,32.28 L530.77,32.01 L532.46,31.74 L534.15,31.47 L535.84,31.21 L537.53,30.95 L539.21,30.68 L540.90,30.42 L542.59,30.16 L544.28,29.91 L545.97,29.65 L547.66,29.39 L549.35,29.14 L551.03,28.89 L552.72,28.64 L554.41,28.39 L556.10,28.14 L557.79,27.89 L559.48,27.64 L561.16,27.40 L562.85,27.15 L564.54,26.91 L566.23,26.66 L567.92,26.42 L569.61,26.18 L571.30,25.94 L572.98,25.70 L574.67,25.46 L576.36,25.22 L578.05,24.98 L579.74,24.74 L581.43,24.50 L583.12,24.26 L584.80,24.02 L586.49,23.79 L588.18,23.55 L589.87,23.31 L591.56,23.08 L593.25,22.84 L594.93,22.61 L596.62,22.37 L598.31,22.13 L600.00,21.90" stroke="#000000" stroke-width="1.05" stroke-dasharray="11.5 7"/>
<path d="M93.45,347.47 L95.14,344.58 L96.83,341.70 L98.52,338.81 L100.20,335.91 L101.89,333.02 L103.58,330.13 L105.27,327.23 L106.96,324.34 L108.65,321.45 L110.34,318.56 L112.02,315.67 L113.71,312.78 L115.40,309.90 L117.09,307.02 L118.78,304.15 L120.47,301.28 L122.15,298.41 L123.84,295.55 L125.53,292.70 L127.22,289.86 L128.91,287.02 L130.60,284.19 L132.29,281.37 L133.97,278.56 L135.66,275.76 L137.35,272.96 L139.04,270.18 L140.73,267.41 L142.42,264.66 L144.11,261.91 L145.79,259.18 L147.48,256.46 L149.17,253.76 L150.86,251.07 L152.55,248.39 L154.24,245.74 L155.92,243.09 L157.61,240.47 L159.30,237.86 L160.99,235.27 L162.68,232.69 L164.37,230.14 L166.06,227.61 L167.74,225.09 L169.43,222.60 L171.12,220.12 L172.81,217.67 L174.50,215.24 L176.19,212.83 L177.88,210.45 L179.56,208.09 L181.25,205.75 L182.94,203.44 L184.63,201.15 L186.32,198.89 L188.01,196.65 L189.69,194.43 L191.38,192.23 L193.07,190.06 L194.76,187.92 L196.45,185.79 L198.14,183.69 L199.83,181.61 L201.51,179.56 L203.20,177.52 L204.89,175.51 L206.58,173.52 L208.27,171.56 L209.96,169.61 L211.64,167.69 L213.33,165.79 L215.02,163.92 L216.71,162.06 L218.40,160.23 L220.09,158.41 L221.78,156.62 L223.46,154.85 L225.15,153.11 L226.84,151.38 L228.53,149.68 L230.22,147.99 L231.91,146.33 L233.60,144.69 L235.28,143.07 L236.97,141.47 L238.66,139.89 L240.35,138.33 L242.04,136.79 L243.73,135.27 L245.42,133.78 L247.10,132.30 L248.79,130.85 L250.48,129.41 L252.17,127.99 L253.86,126.60 L255.55,125.22 L257.23,123.87 L258.92,122.53 L260.61,121.22 L262.30,119.92 L263.99,118.64 L265.68,117.38 L267.37,116.15 L269.05,114.93 L270.74,113.73 L272.43,112.55 L274.12,111.38 L275.81,110.24 L277.50,109.11 L279.19,108.00 L280.87,106.91 L282.56,105.84 L284.25,104.78 L285.94,103.74 L287.63,102.72 L289.32,101.71 L291.00,100.72 L292.69,99.74 L294.38,98.78 L296.07,97.83 L297.76,96.90 L299.45,95.98 L301.14,95.08 L302.82,94.19 L304.51,93.32 L306.20,92.46 L307.89,91.61 L309.58,90.78 L311.27,89.95 L312.96,89.15 L314.64,88.35 L316.33,87.56 L318.02,86.79 L319.71,86.03 L321.40,85.28 L323.09,84.54 L324.77,83.81 L326.46,83.10 L328.15,82.39 L329.84,81.69 L331.53,81.00 L333.22,80.33 L334.91,79.66 L336.59,79.00 L338.28,78.34 L339.97,77.70 L341.66,77.07 L343.35,76.44 L345.04,75.82 L346.73,75.21 L348.41,74.60 L350.10,74.00 L351.79,73.41 L353.48,72.83 L355.17,72.25 L356.86,71.68 L358.54,71.11 L360.23,70.55 L361.92,70.00 L363.61,69.46 L365.30,68.92 L366.99,68.38 L368.68,67.85 L370.36,67.33 L372.05,66.81 L373.74,66.30 L375.43,65.79 L377.12,65.29 L378.81,64.80 L380.50,64.31 L382.18,63.82 L383.87,63.34 L385.56,62.86 L387.25,62.39 L388.94,61.92 L390.63,61.45 L392.31,60.99 L394.00,60.54 L395.69,60.09 L397.38,59.64 L399.07,59.19 L400.76,58.75 L402.45,58.32 L404.13,57.88 L405.82,57.45 L407.51,57.02 L409.20,56.60 L410.89,56.18 L412.58,55.76 L414.26,55.35 L415.95,54.94 L417.64,54.53 L419.33,54.12 L421.02,53.72 L422.71,53.31 L424.40,52.91 L426.08,52.52 L427.77,52.12 L429.46,51.73 L431.15,51.34 L432.84,50.95 L434.53,50.56 L436.22,50.18 L437.90,49.80 L439.59,49.42 L441.28,49.04 L442.97,48.66 L444.66,48.29 L446.35,47.92 L448.04,47.55 L449.72,47.18 L451.41,46.82 L453.10,46.46 L454.79,46.09 L456.48,45.74 L458.17,45.38 L459.85,45.03 L461.54,44.67 L463.23,44.32 L464.92,43.98 L466.61,43.63 L468.30,43.29 L469.99,42.95 L471.67,42.61 L473.36,42.27 L475.05,41.93 L476.74,41.60 L478.43,41.27 L480.12,40.94 L481.80,40.61 L483.49,40.29 L485.18,39.97 L486.87,39.65 L488.56,39.33 L490.25,39.01 L491.94,38.70 L493.62,38.38 L495.31,38.07 L497.00,37.76 L498.69,37.46 L500.38,37.15 L502.07,36.85 L503.76,36.55 L505.44,36.25 L507.13,35.95 L508.82,35.66 L510.51,35.37 L512.20,35.08 L513.89,34.79 L515.58,34.50 L517.26,34.22 L518.95,33.93 L520.64,33.65 L522.33,33.37 L524.02,33.10 L525.71,32.82 L527.39,32.55 L529.08,32.28 L530.77,32.01 L532.46,31.74 L534.15,31.47 L535.84,31.21 L537.53,30.95 L539.21,30.68 L540.90,30.42 L542.59,30.16 L544.28,29.91 L545.97,29.65 L547.66,29.39 L549.35,29.14 L551.03,28.89 L552.72,28.64 L554.41,28.39 L556.10,28.14 L557.79,27.89 L559.48,27.64 L561.16,27.40 L562.85,27.15 L564.54,26.91 L566.23,26.66 L567.92,26.42 L569.61,26.18 L571.30,25.94 L572.98,25.70 L574.67,25.46 L576.36,25.22 L578.05,24.98 L579.74,24.74 L581.43,24.50 L583.12,24.26 L584.80,24.02 L586.49,23.79 L588.18,23.55 L589.87,23.31 L591.56,23.08 L593.25,22.84 L594.93,22.61 L596.62,22.37 L598.31,22.13 L600.00,21.90" stroke="#000000" stroke-width="1.05" stroke-dasharray="11.5 7"/>
<path d="M93.45,387.90 L95.14,384.98 L96.83,382.06 L98.52,379.14 L100.20,376.21 L101.89,373.28 L103.58,370.34 L105.27,367.40 L106.96,364.45 L108.65,361.51 L110.34,358.56 L112.02,355.61 L113.71,352.66 L115.40,349.72 L117.09,346.77 L118.78,343.82 L120.47,340.88 L122.15,337.94 L123.84,335.01 L125.53,332.08 L127.22,329.15 L128.91,326.23 L130.60,323.31 L132.29,320.40 L133.97,317.50 L135.66,314.61 L137.35,311.72 L139.04,308.85 L140.73,305.98 L142.42,303.12 L144.11,300.27 L145.79,297.44 L147.48,294.61 L149.17,291.80 L150.86,289.00 L152.55,286.21 L154.24,283.44 L155.92,280.68 L157.61,277.94 L159.30,275.21 L160.99,272.50 L162.68,269.81 L164.37,267.13 L166.06,264.47 L167.74,261.82 L169.43,259.20 L171.12,256.60 L172.81,254.01 L174.50,251.45 L176.19,248.90 L177.88,246.38 L179.56,243.88 L181.25,241.40 L182.94,238.95 L184.63,236.52 L186.32,234.11 L188.01,231.72 L189.69,229.36 L191.38,227.01 L193.07,224.69 L194.76,222.39 L196.45,220.11 L198.14,217.86 L199.83,215.62 L201.51,213.41 L203.20,211.22 L204.89,209.04 L206.58,206.89 L208.27,204.76 L209.96,202.65 L211.64,200.56 L213.33,198.49 L215.02,196.44 L216.71,194.41 L218.40,192.40 L220.09,190.42 L221.78,188.45 L223.46,186.50 L225.15,184.57 L226.84,182.66 L228.53,180.77 L230.22,178.89 L231.91,177.04 L233.60,175.21 L235.28,173.39 L236.97,171.60 L238.66,169.82 L240.35,168.07 L242.04,166.33 L243.73,164.61 L245.42,162.90 L247.10,161.22 L248.79,159.55 L250.48,157.91 L252.17,156.28 L253.86,154.67 L255.55,153.07 L257.23,151.50 L258.92,149.94 L260.61,148.40 L262.30,146.88 L263.99,145.37 L265.68,143.89 L267.37,142.42 L269.05,140.96 L270.74,139.53 L272.43,138.11 L274.12,136.71 L275.81,135.33 L277.50,133.96 L279.19,132.61 L280.87,131.28 L282.56,129.96 L284.25,128.66 L285.94,127.37 L287.63,126.10 L289.32,124.85 L291.00,123.61 L292.69,122.39 L294.38,121.19 L296.07,120.00 L297.76,118.82 L299.45,117.66 L301.14,116.51 L302.82,115.38 L304.51,114.27 L306.20,113.16 L307.89,112.07 L309.58,111.00 L311.27,109.94 L312.96,108.89 L314.64,107.86 L316.33,106.84 L318.02,105.84 L319.71,104.84 L321.40,103.86 L323.09,102.90 L324.77,101.94 L326.46,101.00 L328.15,100.07 L329.84,99.16 L331.53,98.25 L333.22,97.36 L334.91,96.48 L336.59,95.61 L338.28,94.76 L339.97,93.91 L341.66,93.08 L343.35,92.25 L345.04,91.44 L346.73,90.64 L348.41,89.85 L350.10,89.07 L351.79,88.30 L353.48,87.54 L355.17,86.79 L356.86,86.05 L358.54,85.32 L360.23,84.60 L361.92,83.90 L363.61,83.20 L365.30,82.50 L366.99,81.82 L368.68,81.15 L370.36,80.49 L372.05,79.83 L373.74,79.18 L375.43,78.54 L377.12,77.91 L378.81,77.29 L380.50,76.67 L382.18,76.06 L383.87,75.46 L385.56,74.86 L387.25,74.28 L388.94,73.70 L390.63,73.12 L392.31,72.55 L394.00,71.99 L395.69,71.43 L397.38,70.88 L399.07,70.34 L400.76,69.80 L402.45,69.27 L404.13,68.74 L405.82,68.22 L407.51,67.70 L409.20,67.18 L410.89,66.68 L412.58,66.17 L414.26,65.67 L415.95,65.18 L417.64,64.69 L419.33,64.20 L421.02,63.71 L422.71,63.23 L424.40,62.76 L426.08,62.28 L427.77,61.81 L429.46,61.35 L431.15,60.88 L432.84,60.42 L434.53,59.96 L436.22,59.51 L437.90,59.06 L439.59,58.61 L441.28,58.16 L442.97,57.72 L444.66,57.28 L446.35,56.84 L448.04,56.41 L449.72,55.98 L451.41,55.55 L453.10,55.13 L454.79,54.71 L456.48,54.29 L458.17,53.87 L459.85,53.46 L461.54,53.05 L463.23,52.64 L464.92,52.24 L466.61,51.84 L468.30,51.44 L469.99,51.04 L471.67,50.65 L473.36,50.26 L475.05,49.87 L476.74,49.49 L478.43,49.10 L480.12,48.72 L481.80,48.35 L483.49,47.97 L485.18,47.60 L486.87,47.23 L488.56,46.87 L490.25,46.50 L491.94,46.14 L493.62,45.79 L495.31,45.43 L497.00,45.08 L498.69,44.73 L500.38,44.38 L502.07,44.03 L503.76,43.69 L505.44,43.35 L507.13,43.01 L508.82,42.68 L510.51,42.34 L512.20,42.01 L513.89,41.69 L515.58,41.36 L517.26,41.04 L518.95,40.72 L520.64,40.40 L522.33,40.08 L524.02,39.77 L525.71,39.46 L527.39,39.15 L529.08,38.84 L530.77,38.53 L532.46,38.23 L534.15,37.93 L535.84,37.63 L537.53,37.33 L539.21,37.04 L540.90,36.74 L542.59,36.45 L544.28,36.16 L545.97,35.87 L547.66,35.59 L549.35,35.30 L551.03,35.02 L552.72,34.73 L554.41,34.45 L556.10,34.17 L557.79,33.89 L559.48,33.61 L561.16,33.34 L562.85,33.06 L564.54,32.79 L566.23,32.51 L567.92,32.24 L569.61,31.97 L571.30,31.70 L572.98,31.43 L574.67,31.16 L576.36,30.89 L578.05,30.62 L579.74,30.36 L581.43,30.09 L583.12,29.82 L584.80,29.56 L586.49,29.29 L588.18,29.03 L589.87,28.76 L591.56,28.50 L593.25,28.23 L594.93,27.97 L596.62,27.71 L598.31,27.44 L600.00,27.18" stroke="#000000" stroke-width="1.05" stroke-dasharray="11.5 7"/>
</g>
<path d="M93.45,295.32 L99.05,304.62 L87.85,304.62 Z" fill="none" stroke="#ff0000" stroke-width="1.2"/>
<path d="M177.88,159.77 L183.47,169.07 L172.28,169.07 Z" fill="none" stroke="#ff0000" stroke-width="1.2"/>
<path d="M262.30,88.39 L267.90,97.69 L256.70,97.69 Z" fill="none" stroke="#ff0000" stroke-width="1.2"/>
<path d="M346.73,56.12 L352.33,65.42 L341.12,65.42 Z" fill="none" stroke="#ff0000" stroke-width="1.2"/>
<path d="M431.15,36.06 L436.75,45.36 L425.55,45.36 Z" fill="none" stroke="#ff0000" stroke-width="1.2"/>
<path d="M515.58,21.58 L521.18,30.88 L509.98,30.88 Z" fill="none" stroke="#ff0000" stroke-width="1.2"/>
<path d="M600.00,10.83 L605.60,20.13 L594.40,20.13 Z" fill="none" stroke="#ff0000" stroke-width="1.2"/>
<rect x="89.85" y="341.06" width="7.20" height="7.20" fill="none" stroke="#ff0000" stroke-width="1.2"/>
<rect x="174.28" y="195.75" width="7.20" height="7.20" fill="none" stroke="#ff0000" stroke-width="1.2"/>
<rect x="258.70" y="109.14" width="7.20" height="7.20" fill="none" stroke="#ff0000" stroke-width="1.2"/>
<rect x="343.12" y="67.68" width="7.20" height="7.20" fill="none" stroke="#ff0000" stroke-width="1.2"/>
<rect x="427.55" y="45.12" width="7.20" height="7.20" fill="none" stroke="#ff0000" stroke-width="1.2"/>
<rect x="511.98" y="29.06" width="7.20" height="7.20" fill="none" stroke="#ff0000" stroke-width="1.2"/>
<rect x="596.40" y="17.16" width="7.20" height="7.20" fill="none" stroke="#ff0000" stroke-width="1.2"/>
<path d="M93.45,317.60 L99.05,326.90 L87.85,326.90 Z" fill="none" stroke="#000000" stroke-width="1.2"/>
<path d="M177.88,182.06 L183.47,191.36 L172.28,191.36 Z" fill="none" stroke="#000000" stroke-width="1.2"/>
<path d="M262.30,100.71 L267.90,110.01 L256.70,110.01 Z" fill="none" stroke="#000000" stroke-width="1.2"/>
<path d="M346.73,62.03 L352.33,71.33 L341.12,71.33 Z" fill="none" stroke="#000000" stroke-width="1.2"/>
<path d="M431.15,39.56 L436.75,48.86 L425.55,48.86 Z" fill="none" stroke="#000000" stroke-width="1.2"/>
<path d="M515.58,23.73 L521.18,33.03 L509.98,33.03 Z" fill="none" stroke="#000000" stroke-width="1.2"/>
<path d="M600.00,12.89 L605.60,22.19 L594.40,22.19 Z" fill="none" stroke="#000000" stroke-width="1.2"/>
<rect x="89.85" y="354.87" width="7.20" height="7.20" fill="none" stroke="#000000" stroke-width="1.2"/>
<rect x="174.28" y="211.85" width="7.20" height="7.20" fill="none" stroke="#000000" stroke-width="1.2"/>
<rect x="258.70" y="118.82" width="7.20" height="7.20" fill="none" stroke="#000000" stroke-width="1.2"/>
<rect x="343.12" y="73.41" width="7.20" height="7.20" fill="none" stroke="#000000" stroke-width="1.2"/>
<rect x="427.55" y="48.74" width="7.20" height="7.20" fill="none" stroke="#000000" stroke-width="1.2"/>
<rect x="511.98" y="31.60" width="7.20" height="7.20" fill="none" stroke="#000000" stroke-width="1.2"/>
<rect x="596.40" y="18.90" width="7.20" height="7.20" fill="none" stroke="#000000" stroke-width="1.2"/>
<path d="M93.45,353.67 L94.70,356.31 L97.61,356.07 L95.95,358.47 L97.61,360.87 L94.70,360.63 L93.45,363.27 L92.20,360.63 L89.29,360.87 L90.95,358.47 L89.29,356.07 L92.20,356.31 Z" fill="none" stroke="#000000" stroke-width="1.2"/>
<path d="M177.88,210.65 L179.12,213.29 L182.03,213.05 L180.37,215.45 L182.03,217.85 L179.12,217.61 L177.88,220.25 L176.63,217.61 L173.72,217.85 L175.38,215.45 L173.72,213.05 L176.63,213.29 Z" fill="none" stroke="#000000" stroke-width="1.2"/>
<path d="M262.30,117.62 L263.55,120.26 L266.46,120.02 L264.80,122.42 L266.46,124.82 L263.55,124.58 L262.30,127.22 L261.05,124.58 L258.14,124.82 L259.80,122.42 L258.14,120.02 L261.05,120.26 Z" fill="none" stroke="#000000" stroke-width="1.2"/>
<path d="M346.73,72.21 L347.97,74.84 L350.88,74.61 L349.22,77.01 L350.88,79.41 L347.97,79.17 L346.73,81.81 L345.48,79.17 L342.57,79.41 L344.23,77.01 L342.57,74.61 L345.48,74.84 Z" fill="none" stroke="#000000" stroke-width="1.2"/>
<path d="M431.15,47.54 L432.40,50.18 L435.31,49.94 L433.65,52.34 L435.31,54.74 L432.40,54.50 L431.15,57.14 L429.90,54.50 L426.99,54.74 L428.65,52.34 L426.99,49.94 L429.90,50.18 Z" fill="none" stroke="#000000" stroke-width="1.2"/>
<path d="M515.58,30.40 L516.82,33.04 L519.73,32.80 L518.07,35.20 L519.73,37.60 L516.82,37.36 L515.58,40.00 L514.33,37.36 L511.42,37.60 L513.08,35.20 L511.42,32.80 L514.33,33.04 Z" fill="none" stroke="#000000" stroke-width="1.2"/>
<path d="M600.00,17.70 L601.25,20.34 L604.16,20.10 L602.50,22.50 L604.16,24.90 L601.25,24.66 L600.00,27.30 L598.75,24.66 L595.84,24.90 L597.50,22.50 L595.84,20.10 L598.75,20.34 Z" fill="none" stroke="#000000" stroke-width="1.2"/>
<circle cx="93.45" cy="400.60" r="4.5" fill="none" stroke="#000000" stroke-width="1.2"/>
<circle cx="177.88" cy="251.18" r="4.5" fill="none" stroke="#000000" stroke-width="1.2"/>
<circle cx="262.30" cy="149.18" r="4.5" fill="none" stroke="#000000" stroke-width="1.2"/>
<circle cx="346.73" cy="92.44" r="4.5" fill="none" stroke="#000000" stroke-width="1.2"/>
<circle cx="431.15" cy="61.88" r="4.5" fill="none" stroke="#000000" stroke-width="1.2"/>
<circle cx="515.58" cy="42.06" r="4.5" fill="none" stroke="#000000" stroke-width="1.2"/>
<circle cx="600.00" cy="27.78" r="4.5" fill="none" stroke="#000000" stroke-width="1.2"/>
<path d="M90.15,298.22 L96.75,304.82 M90.15,304.82 L96.75,298.22" fill="none" stroke="#000000" stroke-width="1.2"/>
<path d="M174.57,162.67 L181.18,169.27 M174.57,169.27 L181.18,162.67" fill="none" stroke="#000000" stroke-width="1.2"/>
<path d="M259.00,91.29 L265.60,97.89 M259.00,97.89 L265.60,91.29" fill="none" stroke="#000000" stroke-width="1.2"/>
<path d="M343.43,59.02 L350.03,65.62 M343.43,65.62 L350.03,59.02" fill="none" stroke="#000000" stroke-width="1.2"/>
<path d="M427.85,38.96 L434.45,45.56 M427.85,45.56 L434.45,38.96" fill="none" stroke="#000000" stroke-width="1.2"/>
<path d="M512.28,24.48 L518.88,31.08 M512.28,31.08 L518.88,24.48" fill="none" stroke="#000000" stroke-width="1.2"/>
<path d="M596.70,13.73 L603.30,20.33 M596.70,20.33 L603.30,13.73" fill="none" stroke="#000000" stroke-width="1.2"/>
<path d="M90.15,341.36 L96.75,347.96 M90.15,347.96 L96.75,341.36" fill="none" stroke="#000000" stroke-width="1.2"/>
<path d="M174.57,196.05 L181.18,202.65 M174.57,202.65 L181.18,196.05" fill="none" stroke="#000000" stroke-width="1.2"/>
<path d="M259.00,109.44 L265.60,116.04 M259.00,116.04 L265.60,109.44" fill="none" stroke="#000000" stroke-width="1.2"/>
<path d="M343.43,67.98 L350.03,74.58 M343.43,74.58 L350.03,67.98" fill="none" stroke="#000000" stroke-width="1.2"/>
<path d="M427.85,45.42 L434.45,52.02 M427.85,52.02 L434.45,45.42" fill="none" stroke="#000000" stroke-width="1.2"/>
<path d="M512.28,29.36 L518.88,35.96 M512.28,35.96 L518.88,29.36" fill="none" stroke="#000000" stroke-width="1.2"/>
<path d="M596.70,17.46 L603.30,24.06 M596.70,24.06 L603.30,17.46" fill="none" stroke="#000000" stroke-width="1.2"/>
<path d="M90.15,320.50 L96.75,327.10 M90.15,327.10 L96.75,320.50" fill="none" stroke="#000000" stroke-width="1.2"/>
<path d="M174.57,184.96 L181.18,191.56 M174.57,191.56 L181.18,184.96" fill="none" stroke="#000000" stroke-width="1.2"/>
<path d="M259.00,103.61 L265.60,110.21 M259.00,110.21 L265.60,103.61" fill="none" stroke="#000000" stroke-width="1.2"/>
<path d="M343.43,64.93 L350.03,71.53 M343.43,71.53 L350.03,64.93" fill="none" stroke="#000000" stroke-width="1.2"/>
<path d="M427.85,42.46 L434.45,49.06 M427.85,49.06 L434.45,42.46" fill="none" stroke="#000000" stroke-width="1.2"/>
<path d="M512.28,26.63 L518.88,33.23 M512.28,33.23 L518.88,26.63" fill="none" stroke="#000000" stroke-width="1.2"/>
<path d="M596.70,15.79 L603.30,22.39 M596.70,22.39 L603.30,15.79" fill="none" stroke="#000000" stroke-width="1.2"/>
<path d="M90.15,355.17 L96.75,361.77 M90.15,361.77 L96.75,355.17" fill="none" stroke="#000000" stroke-width="1.2"/>
<path d="M174.57,212.15 L181.18,218.75 M174.57,218.75 L181.18,212.15" fill="none" stroke="#000000" stroke-width="1.2"/>
<path d="M259.00,119.12 L265.60,125.72 M259.00,125.72 L265.60,119.12" fill="none" stroke="#000000" stroke-width="1.2"/>
<path d="M343.43,73.71 L350.03,80.31 M343.43,80.31 L350.03,73.71" fill="none" stroke="#000000" stroke-width="1.2"/>
<path d="M427.85,49.04 L434.45,55.64 M427.85,55.64 L434.45,49.04" fill="none" stroke="#000000" stroke-width="1.2"/>
<path d="M512.28,31.90 L518.88,38.50 M512.28,38.50 L518.88,31.90" fill="none" stroke="#000000" stroke-width="1.2"/>
<path d="M596.70,19.20 L603.30,25.80 M596.70,25.80 L603.30,19.20" fill="none" stroke="#000000" stroke-width="1.2"/>
<path d="M174.57,247.88 L181.18,254.48 M174.57,254.48 L181.18,247.88" fill="none" stroke="#000000" stroke-width="1.2"/>
<path d="M259.00,145.88 L265.60,152.48 M259.00,152.48 L265.60,145.88" fill="none" stroke="#000000" stroke-width="1.2"/>
<path d="M343.43,89.14 L350.03,95.74 M343.43,95.74 L350.03,89.14" fill="none" stroke="#000000" stroke-width="1.2"/>
<path d="M427.85,58.58 L434.45,65.18 M427.85,65.18 L434.45,58.58" fill="none" stroke="#000000" stroke-width="1.2"/>
<path d="M512.28,38.76 L518.88,45.36 M512.28,45.36 L518.88,38.76" fill="none" stroke="#000000" stroke-width="1.2"/>
<path d="M596.70,24.48 L603.30,31.08 M596.70,31.08 L603.30,24.48" fill="none" stroke="#000000" stroke-width="1.2"/>
<path d="M93.45,7.85 V405.9" fill="none" stroke="#303030" stroke-width="1.1"/>
<path d="M93.45,8.35 H600.0" fill="none" stroke="#6a6a6a" stroke-width="1.3"/>
<path d="M93.45,405.4 H600.6" fill="none" stroke="#555" stroke-width="1.2"/>
<path d="M600.0,7.85 V405.9" fill="none" stroke="#6a6a6a" stroke-width="1.6"/>
<path d="M93.45,405.4 v-5.6 M93.45,8.35 v5.6 M177.88,405.4 v-5.6 M177.88,8.35 v5.6 M262.30,405.4 v-5.6 M262.30,8.35 v5.6 M346.73,405.4 v-5.6 M346.73,8.35 v5.6 M431.15,405.4 v-5.6 M431.15,8.35 v5.6 M515.58,405.4 v-5.6 M515.58,8.35 v5.6 M600.00,405.4 v-5.6 M600.00,8.35 v5.6 M93.45,8.35 h5.6 M600.0,8.35 h-5.6 M93.45,127.05 h5.6 M600.0,127.05 h-5.6 M93.45,245.75 h5.6 M600.0,245.75 h-5.6 M93.45,364.45 h5.6 M600.0,364.45 h-5.6 M93.45,91.32 h3.1 M600.0,91.32 h-3.1 M93.45,70.42 h3.1 M600.0,70.42 h-3.1 M93.45,55.59 h3.1 M600.0,55.59 h-3.1 M93.45,44.08 h3.1 M600.0,44.08 h-3.1 M93.45,34.68 h3.1 M600.0,34.68 h-3.1 M93.45,26.74 h3.1 M600.0,26.74 h-3.1 M93.45,19.85 h3.1 M600.0,19.85 h-3.1 M93.45,13.78 h3.1 M600.0,13.78 h-3.1 M93.45,210.02 h3.1 M600.0,210.02 h-3.1 M93.45,189.12 h3.1 M600.0,189.12 h-3.1 M93.45,174.29 h3.1 M600.0,174.29 h-3.1 M93.45,162.78 h3.1 M600.0,162.78 h-3.1 M93.45,153.38 h3.1 M600.0,153.38 h-3.1 M93.45,145.44 h3.1 M600.0,145.44 h-3.1 M93.45,138.55 h3.1 M600.0,138.55 h-3.1 M93.45,132.48 h3.1 M600.0,132.48 h-3.1 M93.45,328.72 h3.1 M600.0,328.72 h-3.1 M93.45,307.82 h3.1 M600.0,307.82 h-3.1 M93.45,292.99 h3.1 M600.0,292.99 h-3.1 M93.45,281.48 h3.1 M600.0,281.48 h-3.1 M93.45,272.08 h3.1 M600.0,272.08 h-3.1 M93.45,264.14 h3.1 M600.0,264.14 h-3.1 M93.45,257.25 h3.1 M600.0,257.25 h-3.1 M93.45,251.18 h3.1 M600.0,251.18 h-3.1 M93.45,400.18 h3.1 M600.0,400.18 h-3.1 M93.45,390.78 h3.1 M600.0,390.78 h-3.1 M93.45,382.84 h3.1 M600.0,382.84 h-3.1 M93.45,375.95 h3.1 M600.0,375.95 h-3.1 M93.45,369.88 h3.1 M600.0,369.88 h-3.1" fill="none" stroke="#2c2c2c" stroke-width="1"/>
<text x="93.45" y="428.6" font-size="16" text-anchor="middle">0</text>
<text x="177.88" y="428.6" font-size="16" text-anchor="middle">5</text>
<text x="262.30" y="428.6" font-size="16" text-anchor="middle">10</text>
<text x="346.73" y="428.6" font-size="16" text-anchor="middle">15</text>
<text x="431.15" y="428.6" font-size="16" text-anchor="middle">20</text>
<text x="515.58" y="428.6" font-size="16" text-anchor="middle">25</text>
<text x="600.00" y="428.6" font-size="16" text-anchor="middle">30</text>
<text x="87.8" y="17.05" font-size="16" text-anchor="end">10<tspan font-size="11" dy="-7.4" dx="0.6">1</tspan></text>
<text x="87.8" y="135.75" font-size="16" text-anchor="end">10<tspan font-size="11" dy="-7.4" dx="0.6">0</tspan></text>
<text x="86.6" y="254.45" font-size="16" text-anchor="end">10<tspan font-size="11" dy="-7.4" dx="0.6">-1</tspan></text>
<text x="86.6" y="373.15" font-size="16" text-anchor="end">10<tspan font-size="11" dy="-7.4" dx="0.6">-2</tspan></text>
<text x="346" y="451.6" font-size="17.3" text-anchor="middle">SNR per path, <tspan font-style="italic" font-size="19" dx="1">λ</tspan><tspan font-style="italic" font-size="13.1" dy="7" dx="1.5">D</tspan><tspan dy="-7" dx="-0.5"> (dB)</tspan></text>
<text transform="translate(42.2,207.6) rotate(-90)" font-size="17.3" text-anchor="middle">Ergodic Secrecy Rate, <tspan font-style="italic">C</tspan><tspan font-size="13.1" dy="6.5">erg</tspan><tspan dy="-6.5"> (bpcu)</tspan></text>
<rect x="396.5" y="234.5" width="190.5" height="158.0" fill="#fff" stroke="#262626" stroke-width="1"/>
<path d="M401.5,246.70 H447.8" stroke="#ff0000" stroke-width="1.1" fill="none"/>
<path d="M424.80,240.50 L430.40,249.80 L419.20,249.80 Z" fill="none" stroke="#ff0000" stroke-width="1.2"/>
<text y="252.50" font-size="14.2"><tspan x="451.3">OS,</tspan><tspan x="479.4">Exact,</tspan><tspan x="523.1" font-style="italic" font-size="14.6">K=3,</tspan><tspan x="558.6" font-style="italic" font-size="14.6">L=3</tspan></text>
<path d="M401.5,265.90 H447.8" stroke="#ff0000" stroke-width="1.1" fill="none"/>
<rect x="421.20" y="262.30" width="7.20" height="7.20" fill="none" stroke="#ff0000" stroke-width="1.2"/>
<text y="271.70" font-size="14.2"><tspan x="451.3">OS,</tspan><tspan x="479.4">Exact,</tspan><tspan x="523.1" font-style="italic" font-size="14.6">K=3,</tspan><tspan x="558.6" font-style="italic" font-size="14.6">L=1</tspan></text>
<path d="M401.5,285.10 H447.8" stroke="#000000" stroke-width="1.1" fill="none"/>
<path d="M424.80,278.90 L430.40,288.20 L419.20,288.20 Z" fill="none" stroke="#000000" stroke-width="1.2"/>
<text y="290.90" font-size="14.2"><tspan x="451.3">SS,</tspan><tspan x="479.4">Exact,</tspan><tspan x="523.1" font-style="italic" font-size="14.6">K=3,</tspan><tspan x="558.6" font-style="italic" font-size="14.6">L=3</tspan></text>
<path d="M401.5,304.30 H447.8" stroke="#000000" stroke-width="1.1" fill="none"/>
<rect x="421.20" y="300.70" width="7.20" height="7.20" fill="none" stroke="#000000" stroke-width="1.2"/>
<text y="310.10" font-size="14.2"><tspan x="451.3">SS,</tspan><tspan x="479.4">Exact,</tspan><tspan x="523.1" font-style="italic" font-size="14.6">K=3,</tspan><tspan x="558.6" font-style="italic" font-size="14.6">L=1</tspan></text>
<path d="M401.5,323.50 H447.8" stroke="#000000" stroke-width="1.1" fill="none"/>
<path d="M424.80,318.70 L426.05,321.34 L428.96,321.10 L427.30,323.50 L428.96,325.90 L426.05,325.66 L424.80,328.30 L423.55,325.66 L420.64,325.90 L422.30,323.50 L420.64,321.10 L423.55,321.34 Z" fill="none" stroke="#000000" stroke-width="1.2"/>
<text y="329.30" font-size="14.2"><tspan x="451.3">SS,</tspan><tspan x="479.4">Exact,</tspan><tspan x="523.1" font-style="italic" font-size="14.6">K=1,</tspan><tspan x="558.6" font-style="italic" font-size="14.6">L=3</tspan></text>
<path d="M401.5,342.70 H447.8" stroke="#000000" stroke-width="1.1" fill="none"/>
<circle cx="424.80" cy="342.70" r="4.5" fill="none" stroke="#000000" stroke-width="1.2"/>
<text y="348.50" font-size="14.2"><tspan x="479.4">Exact,</tspan><tspan x="523.1" font-style="italic" font-size="14.6">K=1,</tspan><tspan x="558.6" font-style="italic" font-size="14.6">L=1</tspan></text>
<path d="M401.5,361.90 H447.8" stroke="#000000" stroke-width="1.1" fill="none" stroke-dasharray="11.5 7"/>
<text x="479.4" y="367.70" font-size="14.2">High-SNR</text>
<path d="M421.50,377.80 L428.10,384.40 M421.50,384.40 L428.10,377.80" fill="none" stroke="#000000" stroke-width="1.2"/>
<text x="479.4" y="386.90" font-size="14.2">Simulation</text>
</svg>
<div class="cap">Fig. 2: Variation of<span style="margin-left:-3px;letter-spacing:-0.09px"> mean ESR and its high-SNR approximation for</span></div>
</body></html>
